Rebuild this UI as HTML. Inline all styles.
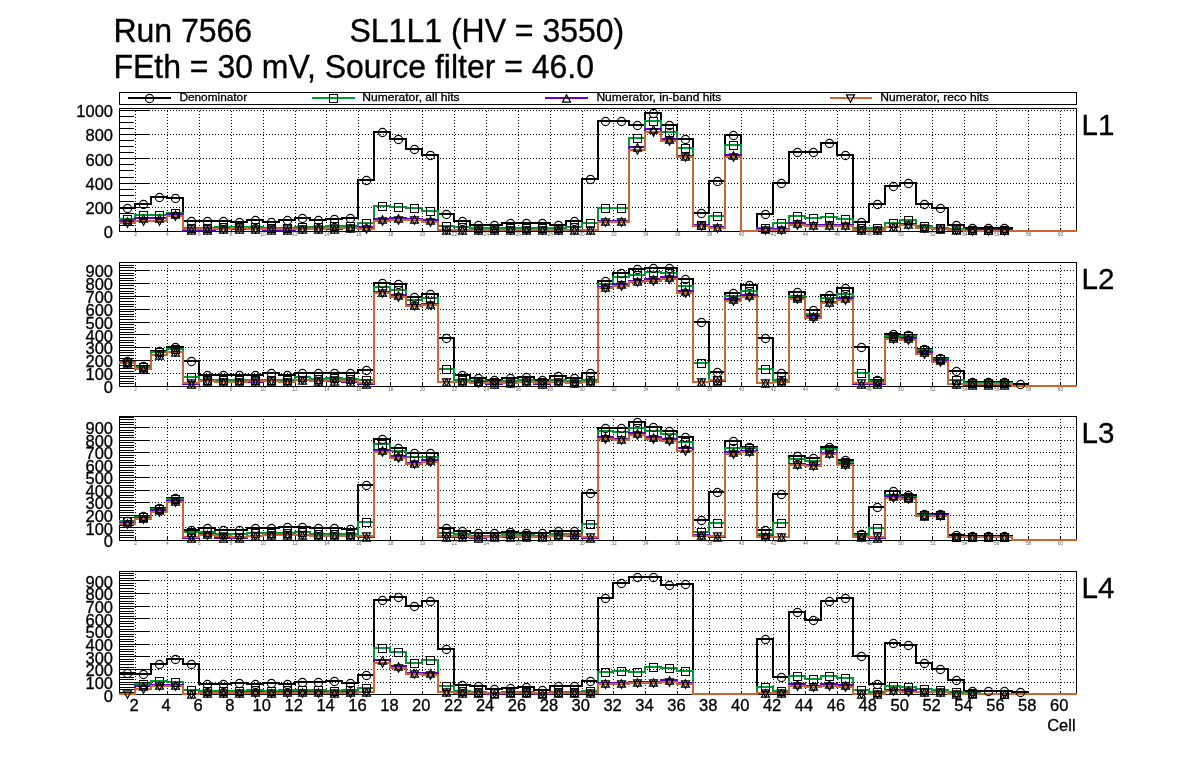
<!DOCTYPE html>
<html><head><meta charset="utf-8"><title>plot</title>
<style>html,body{margin:0;padding:0;background:#fff}svg{display:block;shape-rendering:crispEdges}text{font-family:"Liberation Sans",sans-serif}svg{will-change:transform}.mk,.mg,.mp,.mo{fill:none;stroke:#000;stroke-width:1}.mk{shape-rendering:geometricPrecision;stroke-width:1.15}.mp,.mo{shape-rendering:geometricPrecision;stroke-width:1.2;stroke-linejoin:miter}</style></head>
<body>
<svg width="1196" height="772" viewBox="0 0 1196 772">
<rect width="1196" height="772" fill="#fff"/>
<text transform="translate(113.4 41.5) scale(1 1.03)" font-family="Liberation Sans, sans-serif" font-size="32" fill="#000" stroke="#000" stroke-width="0.35">Run 7566</text>
<text transform="translate(349.5 41.5) scale(1 1.03)" font-family="Liberation Sans, sans-serif" font-size="32" fill="#000" stroke="#000" stroke-width="0.35">SL1L1 (HV = 3550)</text>
<text transform="translate(113.4 77.5) scale(1 1.03)" font-family="Liberation Sans, sans-serif" font-size="32" fill="#000" stroke="#000" stroke-width="0.35">FEth = 30 mV, Source filter = 46.0</text>
<rect x="119.5" y="92.5" width="957.0" height="12" fill="#fff" stroke="#000" stroke-width="1"/>
<line x1="128.1" y1="98" x2="171.0" y2="98" stroke="#000000" stroke-width="2"/>
<g class="mk"><circle cx="149.5" cy="98.5" r="4.1"/></g>
<text x="179.4" y="100.6" font-family="Liberation Sans, sans-serif" font-size="11.2" fill="#000" stroke="#000" stroke-width="0.3" textLength="67.7" lengthAdjust="spacingAndGlyphs">Denominator</text>
<line x1="312.4" y1="98" x2="354.5" y2="98" stroke="#009933" stroke-width="2"/>
<g class="mg"><rect x="329.5" y="94.5" width="8" height="8"/></g>
<text x="362.29999999999995" y="100.6" font-family="Liberation Sans, sans-serif" font-size="11.2" fill="#000" stroke="#000" stroke-width="0.3" textLength="97.3" lengthAdjust="spacingAndGlyphs">Numerator, all hits</text>
<line x1="545.2" y1="98" x2="587.6" y2="98" stroke="#6600cc" stroke-width="2"/>
<g class="mp"><path d="M562.5 102.2H570.5L566.5 94.8Z"/></g>
<text x="596.4" y="100.6" font-family="Liberation Sans, sans-serif" font-size="11.2" fill="#000" stroke="#000" stroke-width="0.3" textLength="125.0" lengthAdjust="spacingAndGlyphs">Numerator, in-band hits</text>
<line x1="829.8" y1="98" x2="871.6" y2="98" stroke="#cc6633" stroke-width="2"/>
<g class="mo"><path d="M846.5 94.8H854.5L850.5 102.2Z"/></g>
<text x="880.3" y="100.6" font-family="Liberation Sans, sans-serif" font-size="11.2" fill="#000" stroke="#000" stroke-width="0.3" textLength="108.4" lengthAdjust="spacingAndGlyphs">Numerator, reco hits</text>
<path d="M135.5 108.0V231.5 M167.5 108.0V231.5 M199.5 108.0V231.5 M231.5 108.0V231.5 M263.5 108.0V231.5 M295.5 108.0V231.5 M326.5 108.0V231.5 M358.5 108.0V231.5 M390.5 108.0V231.5 M422.5 108.0V231.5 M454.5 108.0V231.5 M486.5 108.0V231.5 M518.5 108.0V231.5 M550.5 108.0V231.5 M582.5 108.0V231.5 M613.5 108.0V231.5 M645.5 108.0V231.5 M677.5 108.0V231.5 M709.5 108.0V231.5 M741.5 108.0V231.5 M773.5 108.0V231.5 M805.5 108.0V231.5 M837.5 108.0V231.5 M869.5 108.0V231.5 M900.5 108.0V231.5 M932.5 108.0V231.5 M964.5 108.0V231.5 M996.5 108.0V231.5 M1028.5 108.0V231.5 M1060.5 108.0V231.5 M119.0 207.5H1076.5 M119.0 183.5H1076.5 M119.0 158.5H1076.5 M119.0 134.5H1076.5 M119.0 110.5H1076.5" stroke="#000" stroke-width="1" stroke-dasharray="1 2" fill="none"/>
<path d="M119.5 231.5h29 M119.5 225.5h14 M119.5 219.5h14 M119.5 213.5h14 M119.5 207.5h29 M119.5 201.5h14 M119.5 195.5h14 M119.5 189.5h14 M119.5 183.5h29 M119.5 177.5h14 M119.5 170.5h14 M119.5 164.5h14 M119.5 158.5h29 M119.5 152.5h14 M119.5 146.5h14 M119.5 140.5h14 M119.5 134.5h29 M119.5 128.5h14 M119.5 122.5h14 M119.5 116.5h14 M119.5 110.5h29 M135.5 231.5v-3.5 M167.5 231.5v-3.5 M199.5 231.5v-3.5 M231.5 231.5v-3.5 M263.5 231.5v-3.5 M295.5 231.5v-3.5 M326.5 231.5v-3.5 M358.5 231.5v-3.5 M390.5 231.5v-3.5 M422.5 231.5v-3.5 M454.5 231.5v-3.5 M486.5 231.5v-3.5 M518.5 231.5v-3.5 M550.5 231.5v-3.5 M582.5 231.5v-3.5 M613.5 231.5v-3.5 M645.5 231.5v-3.5 M677.5 231.5v-3.5 M709.5 231.5v-3.5 M741.5 231.5v-3.5 M773.5 231.5v-3.5 M805.5 231.5v-3.5 M837.5 231.5v-3.5 M869.5 231.5v-3.5 M900.5 231.5v-3.5 M932.5 231.5v-3.5 M964.5 231.5v-3.5 M996.5 231.5v-3.5 M1028.5 231.5v-3.5 M1060.5 231.5v-3.5" stroke="#000" stroke-width="1" fill="none"/>
<rect x="119.5" y="108.5" width="957.0" height="123.0" fill="none" stroke="#000" stroke-width="1"/>
<text x="113" y="238.1" text-anchor="end" font-family="Liberation Sans, sans-serif" font-size="16.5" fill="#000" stroke="#000" stroke-width="0.3">0</text>
<text x="113" y="213.9" text-anchor="end" font-family="Liberation Sans, sans-serif" font-size="16.5" fill="#000" stroke="#000" stroke-width="0.3">200</text>
<text x="113" y="189.7" text-anchor="end" font-family="Liberation Sans, sans-serif" font-size="16.5" fill="#000" stroke="#000" stroke-width="0.3">400</text>
<text x="113" y="165.5" text-anchor="end" font-family="Liberation Sans, sans-serif" font-size="16.5" fill="#000" stroke="#000" stroke-width="0.3">600</text>
<text x="113" y="141.3" text-anchor="end" font-family="Liberation Sans, sans-serif" font-size="16.5" fill="#000" stroke="#000" stroke-width="0.3">800</text>
<text x="113" y="117.1" text-anchor="end" font-family="Liberation Sans, sans-serif" font-size="16.5" fill="#000" stroke="#000" stroke-width="0.3">1000</text>
<text x="135.5" y="236.0" text-anchor="middle" font-family="Liberation Sans, sans-serif" font-size="4.8" fill="#666">2</text>
<text x="167.4" y="236.0" text-anchor="middle" font-family="Liberation Sans, sans-serif" font-size="4.8" fill="#666">4</text>
<text x="199.3" y="236.0" text-anchor="middle" font-family="Liberation Sans, sans-serif" font-size="4.8" fill="#666">6</text>
<text x="231.2" y="236.0" text-anchor="middle" font-family="Liberation Sans, sans-serif" font-size="4.8" fill="#666">8</text>
<text x="263.1" y="236.0" text-anchor="middle" font-family="Liberation Sans, sans-serif" font-size="4.8" fill="#666">10</text>
<text x="295.0" y="236.0" text-anchor="middle" font-family="Liberation Sans, sans-serif" font-size="4.8" fill="#666">12</text>
<text x="326.9" y="236.0" text-anchor="middle" font-family="Liberation Sans, sans-serif" font-size="4.8" fill="#666">14</text>
<text x="358.8" y="236.0" text-anchor="middle" font-family="Liberation Sans, sans-serif" font-size="4.8" fill="#666">16</text>
<text x="390.7" y="236.0" text-anchor="middle" font-family="Liberation Sans, sans-serif" font-size="4.8" fill="#666">18</text>
<text x="422.6" y="236.0" text-anchor="middle" font-family="Liberation Sans, sans-serif" font-size="4.8" fill="#666">20</text>
<text x="454.5" y="236.0" text-anchor="middle" font-family="Liberation Sans, sans-serif" font-size="4.8" fill="#666">22</text>
<text x="486.4" y="236.0" text-anchor="middle" font-family="Liberation Sans, sans-serif" font-size="4.8" fill="#666">24</text>
<text x="518.3" y="236.0" text-anchor="middle" font-family="Liberation Sans, sans-serif" font-size="4.8" fill="#666">26</text>
<text x="550.2" y="236.0" text-anchor="middle" font-family="Liberation Sans, sans-serif" font-size="4.8" fill="#666">28</text>
<text x="582.1" y="236.0" text-anchor="middle" font-family="Liberation Sans, sans-serif" font-size="4.8" fill="#666">30</text>
<text x="613.9" y="236.0" text-anchor="middle" font-family="Liberation Sans, sans-serif" font-size="4.8" fill="#666">32</text>
<text x="645.8" y="236.0" text-anchor="middle" font-family="Liberation Sans, sans-serif" font-size="4.8" fill="#666">34</text>
<text x="677.7" y="236.0" text-anchor="middle" font-family="Liberation Sans, sans-serif" font-size="4.8" fill="#666">36</text>
<text x="709.6" y="236.0" text-anchor="middle" font-family="Liberation Sans, sans-serif" font-size="4.8" fill="#666">38</text>
<text x="741.5" y="236.0" text-anchor="middle" font-family="Liberation Sans, sans-serif" font-size="4.8" fill="#666">40</text>
<text x="773.4" y="236.0" text-anchor="middle" font-family="Liberation Sans, sans-serif" font-size="4.8" fill="#666">42</text>
<text x="805.3" y="236.0" text-anchor="middle" font-family="Liberation Sans, sans-serif" font-size="4.8" fill="#666">44</text>
<text x="837.2" y="236.0" text-anchor="middle" font-family="Liberation Sans, sans-serif" font-size="4.8" fill="#666">46</text>
<text x="869.1" y="236.0" text-anchor="middle" font-family="Liberation Sans, sans-serif" font-size="4.8" fill="#666">48</text>
<text x="901.0" y="236.0" text-anchor="middle" font-family="Liberation Sans, sans-serif" font-size="4.8" fill="#666">50</text>
<text x="932.9" y="236.0" text-anchor="middle" font-family="Liberation Sans, sans-serif" font-size="4.8" fill="#666">52</text>
<text x="964.8" y="236.0" text-anchor="middle" font-family="Liberation Sans, sans-serif" font-size="4.8" fill="#666">54</text>
<text x="996.7" y="236.0" text-anchor="middle" font-family="Liberation Sans, sans-serif" font-size="4.8" fill="#666">56</text>
<text x="1028.6" y="236.0" text-anchor="middle" font-family="Liberation Sans, sans-serif" font-size="4.8" fill="#666">58</text>
<text x="1060.5" y="236.0" text-anchor="middle" font-family="Liberation Sans, sans-serif" font-size="4.8" fill="#666">60</text>
<text x="1081.5" y="135.0" font-family="Liberation Sans, sans-serif" font-size="29.6" fill="#000" stroke="#000" stroke-width="0.3">L1</text>
<path d="M119 208H135V204H151V197H167V198H183V221H199H215H231V222H247V220H263V222H279V220H295V218H310V220H326V219H342V218H358V180H374V132H390V139H406V149H422V155H438V214H454V221H470V225H486H502V223H518H534H550V225H566V221H582V179H598V121H613H629V125H645V113H661V125H677V139H693V213H709V181H725V135H741V231H757V214H773V183H789V152H805H821V143H837V155H853V222H869V204H885V186H900V183H916V204H932V208H948V225H964V228H980H996H1012V231H1028H1044H1060H1077" stroke="#000000" stroke-width="2" fill="none" stroke-linejoin="miter" stroke-linecap="butt"/>
<path d="M119 219H135V215H151H167V213H183V228H199H215V227H231H247H263V228H279H295V227H310H326V226H342H358V223H374V206H390V207H406V208H422V211H438V226H454V227H470V228H486H502H518H534H550H566V227H582V223H598V208H613H629V138H645V121H661V132H677V148H693V225H709V216H725V145H741V231H757V228H773V223H789V216H805V218H821V217H837V219H853V228H869H885V223H900V220H916V226H932V228H948V229H964V230H980H996H1012V231H1028H1044H1060H1077" stroke="#009933" stroke-width="2" fill="none" stroke-linejoin="miter" stroke-linecap="butt"/>
<path d="M119 221H135V218H151H167V214H183V230H199H215V229H231H247H263V230H279H295V229H310H326H342V228H358V227H374V219H390V218H406V219H422V220H438V230H454H470H486H502H518H534H550H566H582H598V221H613H629V147H645V129H661V139H677V156H693V225H709V227H725V155H741V231H757V229H773H789V223H805V225H821H837H853V230H869H885V227H900V224H916V228H932V229H948V230H964H980H996H1012V231H1028H1044H1060H1077" stroke="#6600cc" stroke-width="2" fill="none" stroke-linejoin="miter" stroke-linecap="butt"/>
<path d="M119 223H135V221H151H167V216H183V229H199H215H231V228H247V229H263H279H295H310H326V228H342H358V229H374V221H390V220H406H422V222H438V230H454H470H486H502H518H534H550H566H582H598V222H613H629V150H645V132H661V141H677V157H693V226H709V228H725V157H741V231H757V230H773H789V225H805V226H821H837H853V230H869H885V227H900V225H916V228H932V229H948V230H964V231H980H996H1012H1028H1044H1060H1077" stroke="#cc6633" stroke-width="2" fill="none" stroke-linejoin="miter" stroke-linecap="butt"/>
<g class="mk"><circle cx="127.5" cy="208.5" r="4.1"/><circle cx="143.5" cy="204.5" r="4.1"/><circle cx="159.5" cy="197.5" r="4.1"/><circle cx="175.5" cy="198.5" r="4.1"/><circle cx="191.5" cy="221.5" r="4.1"/><circle cx="207.5" cy="221.5" r="4.1"/><circle cx="223.5" cy="221.5" r="4.1"/><circle cx="239.5" cy="222.5" r="4.1"/><circle cx="255.5" cy="220.5" r="4.1"/><circle cx="271.5" cy="222.5" r="4.1"/><circle cx="287.5" cy="220.5" r="4.1"/><circle cx="302.5" cy="218.5" r="4.1"/><circle cx="318.5" cy="220.5" r="4.1"/><circle cx="334.5" cy="219.5" r="4.1"/><circle cx="350.5" cy="218.5" r="4.1"/><circle cx="366.5" cy="180.5" r="4.1"/><circle cx="382.5" cy="132.5" r="4.1"/><circle cx="398.5" cy="139.5" r="4.1"/><circle cx="414.5" cy="149.5" r="4.1"/><circle cx="430.5" cy="155.5" r="4.1"/><circle cx="446.5" cy="214.5" r="4.1"/><circle cx="462.5" cy="221.5" r="4.1"/><circle cx="478.5" cy="225.5" r="4.1"/><circle cx="494.5" cy="225.5" r="4.1"/><circle cx="510.5" cy="223.5" r="4.1"/><circle cx="526.5" cy="223.5" r="4.1"/><circle cx="542.5" cy="223.5" r="4.1"/><circle cx="558.5" cy="225.5" r="4.1"/><circle cx="574.5" cy="221.5" r="4.1"/><circle cx="590.5" cy="179.5" r="4.1"/><circle cx="605.5" cy="121.5" r="4.1"/><circle cx="621.5" cy="121.5" r="4.1"/><circle cx="637.5" cy="125.5" r="4.1"/><circle cx="653.5" cy="113.5" r="4.1"/><circle cx="669.5" cy="125.5" r="4.1"/><circle cx="685.5" cy="139.5" r="4.1"/><circle cx="701.5" cy="213.5" r="4.1"/><circle cx="717.5" cy="181.5" r="4.1"/><circle cx="733.5" cy="135.5" r="4.1"/><circle cx="765.5" cy="214.5" r="4.1"/><circle cx="781.5" cy="183.5" r="4.1"/><circle cx="797.5" cy="152.5" r="4.1"/><circle cx="813.5" cy="152.5" r="4.1"/><circle cx="829.5" cy="143.5" r="4.1"/><circle cx="845.5" cy="155.5" r="4.1"/><circle cx="861.5" cy="222.5" r="4.1"/><circle cx="877.5" cy="204.5" r="4.1"/><circle cx="893.5" cy="186.5" r="4.1"/><circle cx="908.5" cy="183.5" r="4.1"/><circle cx="924.5" cy="204.5" r="4.1"/><circle cx="940.5" cy="208.5" r="4.1"/><circle cx="956.5" cy="225.5" r="4.1"/><circle cx="972.5" cy="228.5" r="4.1"/><circle cx="988.5" cy="228.5" r="4.1"/><circle cx="1004.5" cy="228.5" r="4.1"/></g>
<g class="mg"><rect x="123.5" y="215.5" width="8" height="8"/><rect x="139.5" y="211.5" width="8" height="8"/><rect x="155.5" y="211.5" width="8" height="8"/><rect x="171.5" y="209.5" width="8" height="8"/><rect x="187.5" y="224.5" width="8" height="8"/><rect x="203.5" y="224.5" width="8" height="8"/><rect x="219.5" y="223.5" width="8" height="8"/><rect x="235.5" y="223.5" width="8" height="8"/><rect x="251.5" y="223.5" width="8" height="8"/><rect x="267.5" y="224.5" width="8" height="8"/><rect x="283.5" y="224.5" width="8" height="8"/><rect x="298.5" y="223.5" width="8" height="8"/><rect x="314.5" y="223.5" width="8" height="8"/><rect x="330.5" y="222.5" width="8" height="8"/><rect x="346.5" y="222.5" width="8" height="8"/><rect x="362.5" y="219.5" width="8" height="8"/><rect x="378.5" y="202.5" width="8" height="8"/><rect x="394.5" y="203.5" width="8" height="8"/><rect x="410.5" y="204.5" width="8" height="8"/><rect x="426.5" y="207.5" width="8" height="8"/><rect x="442.5" y="222.5" width="8" height="8"/><rect x="458.5" y="223.5" width="8" height="8"/><rect x="474.5" y="224.5" width="8" height="8"/><rect x="490.5" y="224.5" width="8" height="8"/><rect x="506.5" y="224.5" width="8" height="8"/><rect x="522.5" y="224.5" width="8" height="8"/><rect x="538.5" y="224.5" width="8" height="8"/><rect x="554.5" y="224.5" width="8" height="8"/><rect x="570.5" y="223.5" width="8" height="8"/><rect x="586.5" y="219.5" width="8" height="8"/><rect x="601.5" y="204.5" width="8" height="8"/><rect x="617.5" y="204.5" width="8" height="8"/><rect x="633.5" y="134.5" width="8" height="8"/><rect x="649.5" y="117.5" width="8" height="8"/><rect x="665.5" y="128.5" width="8" height="8"/><rect x="681.5" y="144.5" width="8" height="8"/><rect x="697.5" y="221.5" width="8" height="8"/><rect x="713.5" y="212.5" width="8" height="8"/><rect x="729.5" y="141.5" width="8" height="8"/><rect x="761.5" y="224.5" width="8" height="8"/><rect x="777.5" y="219.5" width="8" height="8"/><rect x="793.5" y="212.5" width="8" height="8"/><rect x="809.5" y="214.5" width="8" height="8"/><rect x="825.5" y="213.5" width="8" height="8"/><rect x="841.5" y="215.5" width="8" height="8"/><rect x="857.5" y="224.5" width="8" height="8"/><rect x="873.5" y="224.5" width="8" height="8"/><rect x="889.5" y="219.5" width="8" height="8"/><rect x="904.5" y="216.5" width="8" height="8"/><rect x="920.5" y="222.5" width="8" height="8"/><rect x="936.5" y="224.5" width="8" height="8"/><rect x="952.5" y="225.5" width="8" height="8"/><rect x="968.5" y="226.5" width="8" height="8"/><rect x="984.5" y="226.5" width="8" height="8"/><rect x="1000.5" y="226.5" width="8" height="8"/></g>
<g class="mp"><path d="M123.5 225.2H131.5L127.5 217.8Z"/><path d="M139.5 222.2H147.5L143.5 214.8Z"/><path d="M155.5 222.2H163.5L159.5 214.8Z"/><path d="M171.5 218.2H179.5L175.5 210.8Z"/><path d="M187.5 234.2H195.5L191.5 226.8Z"/><path d="M203.5 234.2H211.5L207.5 226.8Z"/><path d="M219.5 233.2H227.5L223.5 225.8Z"/><path d="M235.5 233.2H243.5L239.5 225.8Z"/><path d="M251.5 233.2H259.5L255.5 225.8Z"/><path d="M267.5 234.2H275.5L271.5 226.8Z"/><path d="M283.5 234.2H291.5L287.5 226.8Z"/><path d="M298.5 233.2H306.5L302.5 225.8Z"/><path d="M314.5 233.2H322.5L318.5 225.8Z"/><path d="M330.5 233.2H338.5L334.5 225.8Z"/><path d="M346.5 232.2H354.5L350.5 224.8Z"/><path d="M362.5 231.2H370.5L366.5 223.8Z"/><path d="M378.5 223.2H386.5L382.5 215.8Z"/><path d="M394.5 222.2H402.5L398.5 214.8Z"/><path d="M410.5 223.2H418.5L414.5 215.8Z"/><path d="M426.5 224.2H434.5L430.5 216.8Z"/><path d="M442.5 234.2H450.5L446.5 226.8Z"/><path d="M458.5 234.2H466.5L462.5 226.8Z"/><path d="M474.5 234.2H482.5L478.5 226.8Z"/><path d="M490.5 234.2H498.5L494.5 226.8Z"/><path d="M506.5 234.2H514.5L510.5 226.8Z"/><path d="M522.5 234.2H530.5L526.5 226.8Z"/><path d="M538.5 234.2H546.5L542.5 226.8Z"/><path d="M554.5 234.2H562.5L558.5 226.8Z"/><path d="M570.5 234.2H578.5L574.5 226.8Z"/><path d="M586.5 234.2H594.5L590.5 226.8Z"/><path d="M601.5 225.2H609.5L605.5 217.8Z"/><path d="M617.5 225.2H625.5L621.5 217.8Z"/><path d="M633.5 151.2H641.5L637.5 143.8Z"/><path d="M649.5 133.2H657.5L653.5 125.8Z"/><path d="M665.5 143.2H673.5L669.5 135.8Z"/><path d="M681.5 160.2H689.5L685.5 152.8Z"/><path d="M697.5 229.2H705.5L701.5 221.8Z"/><path d="M713.5 231.2H721.5L717.5 223.8Z"/><path d="M729.5 159.2H737.5L733.5 151.8Z"/><path d="M761.5 233.2H769.5L765.5 225.8Z"/><path d="M777.5 233.2H785.5L781.5 225.8Z"/><path d="M793.5 227.2H801.5L797.5 219.8Z"/><path d="M809.5 229.2H817.5L813.5 221.8Z"/><path d="M825.5 229.2H833.5L829.5 221.8Z"/><path d="M841.5 229.2H849.5L845.5 221.8Z"/><path d="M857.5 234.2H865.5L861.5 226.8Z"/><path d="M873.5 234.2H881.5L877.5 226.8Z"/><path d="M889.5 231.2H897.5L893.5 223.8Z"/><path d="M904.5 228.2H912.5L908.5 220.8Z"/><path d="M920.5 232.2H928.5L924.5 224.8Z"/><path d="M936.5 233.2H944.5L940.5 225.8Z"/><path d="M952.5 234.2H960.5L956.5 226.8Z"/><path d="M968.5 234.2H976.5L972.5 226.8Z"/><path d="M984.5 234.2H992.5L988.5 226.8Z"/><path d="M1000.5 234.2H1008.5L1004.5 226.8Z"/></g>
<g class="mo"><path d="M123.5 219.8H131.5L127.5 227.2Z"/><path d="M139.5 217.8H147.5L143.5 225.2Z"/><path d="M155.5 217.8H163.5L159.5 225.2Z"/><path d="M171.5 212.8H179.5L175.5 220.2Z"/><path d="M187.5 225.8H195.5L191.5 233.2Z"/><path d="M203.5 225.8H211.5L207.5 233.2Z"/><path d="M219.5 225.8H227.5L223.5 233.2Z"/><path d="M235.5 224.8H243.5L239.5 232.2Z"/><path d="M251.5 225.8H259.5L255.5 233.2Z"/><path d="M267.5 225.8H275.5L271.5 233.2Z"/><path d="M283.5 225.8H291.5L287.5 233.2Z"/><path d="M298.5 225.8H306.5L302.5 233.2Z"/><path d="M314.5 225.8H322.5L318.5 233.2Z"/><path d="M330.5 224.8H338.5L334.5 232.2Z"/><path d="M346.5 224.8H354.5L350.5 232.2Z"/><path d="M362.5 225.8H370.5L366.5 233.2Z"/><path d="M378.5 217.8H386.5L382.5 225.2Z"/><path d="M394.5 216.8H402.5L398.5 224.2Z"/><path d="M410.5 216.8H418.5L414.5 224.2Z"/><path d="M426.5 218.8H434.5L430.5 226.2Z"/><path d="M442.5 226.8H450.5L446.5 234.2Z"/><path d="M458.5 226.8H466.5L462.5 234.2Z"/><path d="M474.5 226.8H482.5L478.5 234.2Z"/><path d="M490.5 226.8H498.5L494.5 234.2Z"/><path d="M506.5 226.8H514.5L510.5 234.2Z"/><path d="M522.5 226.8H530.5L526.5 234.2Z"/><path d="M538.5 226.8H546.5L542.5 234.2Z"/><path d="M554.5 226.8H562.5L558.5 234.2Z"/><path d="M570.5 226.8H578.5L574.5 234.2Z"/><path d="M586.5 226.8H594.5L590.5 234.2Z"/><path d="M601.5 218.8H609.5L605.5 226.2Z"/><path d="M617.5 218.8H625.5L621.5 226.2Z"/><path d="M633.5 146.8H641.5L637.5 154.2Z"/><path d="M649.5 128.8H657.5L653.5 136.2Z"/><path d="M665.5 137.8H673.5L669.5 145.2Z"/><path d="M681.5 153.8H689.5L685.5 161.2Z"/><path d="M697.5 222.8H705.5L701.5 230.2Z"/><path d="M713.5 224.8H721.5L717.5 232.2Z"/><path d="M729.5 153.8H737.5L733.5 161.2Z"/><path d="M761.5 226.8H769.5L765.5 234.2Z"/><path d="M777.5 226.8H785.5L781.5 234.2Z"/><path d="M793.5 221.8H801.5L797.5 229.2Z"/><path d="M809.5 222.8H817.5L813.5 230.2Z"/><path d="M825.5 222.8H833.5L829.5 230.2Z"/><path d="M841.5 222.8H849.5L845.5 230.2Z"/><path d="M857.5 226.8H865.5L861.5 234.2Z"/><path d="M873.5 226.8H881.5L877.5 234.2Z"/><path d="M889.5 223.8H897.5L893.5 231.2Z"/><path d="M904.5 221.8H912.5L908.5 229.2Z"/><path d="M920.5 224.8H928.5L924.5 232.2Z"/><path d="M936.5 225.8H944.5L940.5 233.2Z"/><path d="M952.5 226.8H960.5L956.5 234.2Z"/><path d="M968.5 227.8H976.5L972.5 235.2Z"/><path d="M984.5 227.8H992.5L988.5 235.2Z"/><path d="M1000.5 227.8H1008.5L1004.5 235.2Z"/></g>
<path d="M135.5 262.0V386.5 M167.5 262.0V386.5 M199.5 262.0V386.5 M231.5 262.0V386.5 M263.5 262.0V386.5 M295.5 262.0V386.5 M326.5 262.0V386.5 M358.5 262.0V386.5 M390.5 262.0V386.5 M422.5 262.0V386.5 M454.5 262.0V386.5 M486.5 262.0V386.5 M518.5 262.0V386.5 M550.5 262.0V386.5 M582.5 262.0V386.5 M613.5 262.0V386.5 M645.5 262.0V386.5 M677.5 262.0V386.5 M709.5 262.0V386.5 M741.5 262.0V386.5 M773.5 262.0V386.5 M805.5 262.0V386.5 M837.5 262.0V386.5 M869.5 262.0V386.5 M900.5 262.0V386.5 M932.5 262.0V386.5 M964.5 262.0V386.5 M996.5 262.0V386.5 M1028.5 262.0V386.5 M1060.5 262.0V386.5 M119.0 373.5H1076.5 M119.0 360.5H1076.5 M119.0 347.5H1076.5 M119.0 334.5H1076.5 M119.0 322.5H1076.5 M119.0 309.5H1076.5 M119.0 296.5H1076.5 M119.0 283.5H1076.5 M119.0 270.5H1076.5" stroke="#000" stroke-width="1" stroke-dasharray="1 2" fill="none"/>
<path d="M119.5 386.5h29 M119.5 383.5h14 M119.5 381.5h14 M119.5 378.5h14 M119.5 376.5h14 M119.5 373.5h29 M119.5 371.5h14 M119.5 368.5h14 M119.5 365.5h14 M119.5 363.5h14 M119.5 360.5h29 M119.5 358.5h14 M119.5 355.5h14 M119.5 352.5h14 M119.5 350.5h14 M119.5 347.5h29 M119.5 345.5h14 M119.5 342.5h14 M119.5 340.5h14 M119.5 337.5h14 M119.5 334.5h29 M119.5 332.5h14 M119.5 329.5h14 M119.5 327.5h14 M119.5 324.5h14 M119.5 322.5h29 M119.5 319.5h14 M119.5 316.5h14 M119.5 314.5h14 M119.5 311.5h14 M119.5 309.5h29 M119.5 306.5h14 M119.5 304.5h14 M119.5 301.5h14 M119.5 298.5h14 M119.5 296.5h29 M119.5 293.5h14 M119.5 291.5h14 M119.5 288.5h14 M119.5 285.5h14 M119.5 283.5h29 M119.5 280.5h14 M119.5 278.5h14 M119.5 275.5h14 M119.5 273.5h14 M119.5 270.5h29 M119.5 267.5h14 M119.5 265.5h14 M119.5 262.5h14 M135.5 386.5v-3.5 M167.5 386.5v-3.5 M199.5 386.5v-3.5 M231.5 386.5v-3.5 M263.5 386.5v-3.5 M295.5 386.5v-3.5 M326.5 386.5v-3.5 M358.5 386.5v-3.5 M390.5 386.5v-3.5 M422.5 386.5v-3.5 M454.5 386.5v-3.5 M486.5 386.5v-3.5 M518.5 386.5v-3.5 M550.5 386.5v-3.5 M582.5 386.5v-3.5 M613.5 386.5v-3.5 M645.5 386.5v-3.5 M677.5 386.5v-3.5 M709.5 386.5v-3.5 M741.5 386.5v-3.5 M773.5 386.5v-3.5 M805.5 386.5v-3.5 M837.5 386.5v-3.5 M869.5 386.5v-3.5 M900.5 386.5v-3.5 M932.5 386.5v-3.5 M964.5 386.5v-3.5 M996.5 386.5v-3.5 M1028.5 386.5v-3.5 M1060.5 386.5v-3.5" stroke="#000" stroke-width="1" fill="none"/>
<rect x="119.5" y="262.5" width="957.0" height="124.0" fill="none" stroke="#000" stroke-width="1"/>
<text x="113" y="393.1" text-anchor="end" font-family="Liberation Sans, sans-serif" font-size="16.5" fill="#000" stroke="#000" stroke-width="0.3">0</text>
<text x="113" y="380.2" text-anchor="end" font-family="Liberation Sans, sans-serif" font-size="16.5" fill="#000" stroke="#000" stroke-width="0.3">100</text>
<text x="113" y="367.3" text-anchor="end" font-family="Liberation Sans, sans-serif" font-size="16.5" fill="#000" stroke="#000" stroke-width="0.3">200</text>
<text x="113" y="354.4" text-anchor="end" font-family="Liberation Sans, sans-serif" font-size="16.5" fill="#000" stroke="#000" stroke-width="0.3">300</text>
<text x="113" y="341.5" text-anchor="end" font-family="Liberation Sans, sans-serif" font-size="16.5" fill="#000" stroke="#000" stroke-width="0.3">400</text>
<text x="113" y="328.7" text-anchor="end" font-family="Liberation Sans, sans-serif" font-size="16.5" fill="#000" stroke="#000" stroke-width="0.3">500</text>
<text x="113" y="315.8" text-anchor="end" font-family="Liberation Sans, sans-serif" font-size="16.5" fill="#000" stroke="#000" stroke-width="0.3">600</text>
<text x="113" y="302.9" text-anchor="end" font-family="Liberation Sans, sans-serif" font-size="16.5" fill="#000" stroke="#000" stroke-width="0.3">700</text>
<text x="113" y="290.0" text-anchor="end" font-family="Liberation Sans, sans-serif" font-size="16.5" fill="#000" stroke="#000" stroke-width="0.3">800</text>
<text x="113" y="277.1" text-anchor="end" font-family="Liberation Sans, sans-serif" font-size="16.5" fill="#000" stroke="#000" stroke-width="0.3">900</text>
<text x="135.5" y="391.0" text-anchor="middle" font-family="Liberation Sans, sans-serif" font-size="4.8" fill="#666">2</text>
<text x="167.4" y="391.0" text-anchor="middle" font-family="Liberation Sans, sans-serif" font-size="4.8" fill="#666">4</text>
<text x="199.3" y="391.0" text-anchor="middle" font-family="Liberation Sans, sans-serif" font-size="4.8" fill="#666">6</text>
<text x="231.2" y="391.0" text-anchor="middle" font-family="Liberation Sans, sans-serif" font-size="4.8" fill="#666">8</text>
<text x="263.1" y="391.0" text-anchor="middle" font-family="Liberation Sans, sans-serif" font-size="4.8" fill="#666">10</text>
<text x="295.0" y="391.0" text-anchor="middle" font-family="Liberation Sans, sans-serif" font-size="4.8" fill="#666">12</text>
<text x="326.9" y="391.0" text-anchor="middle" font-family="Liberation Sans, sans-serif" font-size="4.8" fill="#666">14</text>
<text x="358.8" y="391.0" text-anchor="middle" font-family="Liberation Sans, sans-serif" font-size="4.8" fill="#666">16</text>
<text x="390.7" y="391.0" text-anchor="middle" font-family="Liberation Sans, sans-serif" font-size="4.8" fill="#666">18</text>
<text x="422.6" y="391.0" text-anchor="middle" font-family="Liberation Sans, sans-serif" font-size="4.8" fill="#666">20</text>
<text x="454.5" y="391.0" text-anchor="middle" font-family="Liberation Sans, sans-serif" font-size="4.8" fill="#666">22</text>
<text x="486.4" y="391.0" text-anchor="middle" font-family="Liberation Sans, sans-serif" font-size="4.8" fill="#666">24</text>
<text x="518.3" y="391.0" text-anchor="middle" font-family="Liberation Sans, sans-serif" font-size="4.8" fill="#666">26</text>
<text x="550.2" y="391.0" text-anchor="middle" font-family="Liberation Sans, sans-serif" font-size="4.8" fill="#666">28</text>
<text x="582.1" y="391.0" text-anchor="middle" font-family="Liberation Sans, sans-serif" font-size="4.8" fill="#666">30</text>
<text x="613.9" y="391.0" text-anchor="middle" font-family="Liberation Sans, sans-serif" font-size="4.8" fill="#666">32</text>
<text x="645.8" y="391.0" text-anchor="middle" font-family="Liberation Sans, sans-serif" font-size="4.8" fill="#666">34</text>
<text x="677.7" y="391.0" text-anchor="middle" font-family="Liberation Sans, sans-serif" font-size="4.8" fill="#666">36</text>
<text x="709.6" y="391.0" text-anchor="middle" font-family="Liberation Sans, sans-serif" font-size="4.8" fill="#666">38</text>
<text x="741.5" y="391.0" text-anchor="middle" font-family="Liberation Sans, sans-serif" font-size="4.8" fill="#666">40</text>
<text x="773.4" y="391.0" text-anchor="middle" font-family="Liberation Sans, sans-serif" font-size="4.8" fill="#666">42</text>
<text x="805.3" y="391.0" text-anchor="middle" font-family="Liberation Sans, sans-serif" font-size="4.8" fill="#666">44</text>
<text x="837.2" y="391.0" text-anchor="middle" font-family="Liberation Sans, sans-serif" font-size="4.8" fill="#666">46</text>
<text x="869.1" y="391.0" text-anchor="middle" font-family="Liberation Sans, sans-serif" font-size="4.8" fill="#666">48</text>
<text x="901.0" y="391.0" text-anchor="middle" font-family="Liberation Sans, sans-serif" font-size="4.8" fill="#666">50</text>
<text x="932.9" y="391.0" text-anchor="middle" font-family="Liberation Sans, sans-serif" font-size="4.8" fill="#666">52</text>
<text x="964.8" y="391.0" text-anchor="middle" font-family="Liberation Sans, sans-serif" font-size="4.8" fill="#666">54</text>
<text x="996.7" y="391.0" text-anchor="middle" font-family="Liberation Sans, sans-serif" font-size="4.8" fill="#666">56</text>
<text x="1028.6" y="391.0" text-anchor="middle" font-family="Liberation Sans, sans-serif" font-size="4.8" fill="#666">58</text>
<text x="1060.5" y="391.0" text-anchor="middle" font-family="Liberation Sans, sans-serif" font-size="4.8" fill="#666">60</text>
<text x="1081.5" y="289.0" font-family="Liberation Sans, sans-serif" font-size="29.6" fill="#000" stroke="#000" stroke-width="0.3">L2</text>
<path d="M119 361H135V366H151V351H167V347H183V361H199V375H215H231H247H263V373H279V375H295V373H310H326H342H358V370H374V283H390V284H406V297H422V294H438V338H454V375H470V378H486V380H502V378H518V377H534V380H550V376H566V378H582V373H598V281H613V273H629V269H645V268H661H677V279H693V322H709V372H725V293H741V285H757V338H773V373H789V292H805V310H821V295H837V288H853V347H869V380H885V334H900V335H916V349H932V358H948V371H964V382H980H996H1012V384H1028V386H1044H1060H1077" stroke="#000000" stroke-width="2" fill="none" stroke-linejoin="miter" stroke-linecap="butt"/>
<path d="M119 362H135V367H151V352H167V349H183V377H199V380H215H231H247H263H279H295V377H310V379H326V378H342V379H358V380H374V287H390V290H406V300H422V298H438V369H454V380H470V381H486V382H502V381H518V380H534V382H550V380H566V381H582V380H598V284H613V277H629V275H645V272H661V273H677V286H693V363H709V380H725V296H741V291H757V369H773V380H789V296H805V314H821V298H837V294H853V373H869V381H885V336H900H916V350H932V359H948V380H964V383H980H996H1012V386H1028H1044H1060H1077" stroke="#009933" stroke-width="2" fill="none" stroke-linejoin="miter" stroke-linecap="butt"/>
<path d="M119 363H135V369H151V355H167V352H183V384H199V381H215V382H231H247H263V381H279V382H295V380H310V381H326H342V382H358V384H374V292H390V295H406V305H422V304H438V382H454H470H486V384H502V383H518V382H534V384H550V382H566V383H582V382H598V287H613V284H629V281H645V279H661V277H677V291H693V382H709V381H725V299H741V295H757V383H773V382H789V298H805V316H821V302H837V298H853V384H869H885V338H900H916V352H932V360H948V384H964V385H980H996H1012V386H1028H1044H1060H1077" stroke="#6600cc" stroke-width="2" fill="none" stroke-linejoin="miter" stroke-linecap="butt"/>
<path d="M119 363H135V369H151V355H167V352H183V383H199V381H215V382H231H247V381H263H279V382H295V380H310V381H326V380H342V381H358V383H374V293H390V297H406V306H422V305H438V382H454H470V383H486H502H518V382H534V383H550V382H566V383H582V382H598V288H613V286H629V282H645V281H661V279H677V293H693V382H709V380H725V301H741V297H757V383H773V382H789V299H805V318H821V303H837V300H853V383H869H885V339H900V340H916V354H932V362H948V384H964H980H996H1012V386H1028H1044H1060H1077" stroke="#cc6633" stroke-width="2" fill="none" stroke-linejoin="miter" stroke-linecap="butt"/>
<g class="mk"><circle cx="127.5" cy="361.5" r="4.1"/><circle cx="143.5" cy="366.5" r="4.1"/><circle cx="159.5" cy="351.5" r="4.1"/><circle cx="175.5" cy="347.5" r="4.1"/><circle cx="191.5" cy="361.5" r="4.1"/><circle cx="207.5" cy="375.5" r="4.1"/><circle cx="223.5" cy="375.5" r="4.1"/><circle cx="239.5" cy="375.5" r="4.1"/><circle cx="255.5" cy="375.5" r="4.1"/><circle cx="271.5" cy="373.5" r="4.1"/><circle cx="287.5" cy="375.5" r="4.1"/><circle cx="302.5" cy="373.5" r="4.1"/><circle cx="318.5" cy="373.5" r="4.1"/><circle cx="334.5" cy="373.5" r="4.1"/><circle cx="350.5" cy="373.5" r="4.1"/><circle cx="366.5" cy="370.5" r="4.1"/><circle cx="382.5" cy="283.5" r="4.1"/><circle cx="398.5" cy="284.5" r="4.1"/><circle cx="414.5" cy="297.5" r="4.1"/><circle cx="430.5" cy="294.5" r="4.1"/><circle cx="446.5" cy="338.5" r="4.1"/><circle cx="462.5" cy="375.5" r="4.1"/><circle cx="478.5" cy="378.5" r="4.1"/><circle cx="494.5" cy="380.5" r="4.1"/><circle cx="510.5" cy="378.5" r="4.1"/><circle cx="526.5" cy="377.5" r="4.1"/><circle cx="542.5" cy="380.5" r="4.1"/><circle cx="558.5" cy="376.5" r="4.1"/><circle cx="574.5" cy="378.5" r="4.1"/><circle cx="590.5" cy="373.5" r="4.1"/><circle cx="605.5" cy="281.5" r="4.1"/><circle cx="621.5" cy="273.5" r="4.1"/><circle cx="637.5" cy="269.5" r="4.1"/><circle cx="653.5" cy="268.5" r="4.1"/><circle cx="669.5" cy="268.5" r="4.1"/><circle cx="685.5" cy="279.5" r="4.1"/><circle cx="701.5" cy="322.5" r="4.1"/><circle cx="717.5" cy="372.5" r="4.1"/><circle cx="733.5" cy="293.5" r="4.1"/><circle cx="749.5" cy="285.5" r="4.1"/><circle cx="765.5" cy="338.5" r="4.1"/><circle cx="781.5" cy="373.5" r="4.1"/><circle cx="797.5" cy="292.5" r="4.1"/><circle cx="813.5" cy="310.5" r="4.1"/><circle cx="829.5" cy="295.5" r="4.1"/><circle cx="845.5" cy="288.5" r="4.1"/><circle cx="861.5" cy="347.5" r="4.1"/><circle cx="877.5" cy="380.5" r="4.1"/><circle cx="893.5" cy="334.5" r="4.1"/><circle cx="908.5" cy="335.5" r="4.1"/><circle cx="924.5" cy="349.5" r="4.1"/><circle cx="940.5" cy="358.5" r="4.1"/><circle cx="956.5" cy="371.5" r="4.1"/><circle cx="972.5" cy="382.5" r="4.1"/><circle cx="988.5" cy="382.5" r="4.1"/><circle cx="1004.5" cy="382.5" r="4.1"/><circle cx="1020.5" cy="384.5" r="4.1"/></g>
<g class="mg"><rect x="123.5" y="358.5" width="8" height="8"/><rect x="139.5" y="363.5" width="8" height="8"/><rect x="155.5" y="348.5" width="8" height="8"/><rect x="171.5" y="345.5" width="8" height="8"/><rect x="187.5" y="373.5" width="8" height="8"/><rect x="203.5" y="376.5" width="8" height="8"/><rect x="219.5" y="376.5" width="8" height="8"/><rect x="235.5" y="376.5" width="8" height="8"/><rect x="251.5" y="376.5" width="8" height="8"/><rect x="267.5" y="376.5" width="8" height="8"/><rect x="283.5" y="376.5" width="8" height="8"/><rect x="298.5" y="373.5" width="8" height="8"/><rect x="314.5" y="375.5" width="8" height="8"/><rect x="330.5" y="374.5" width="8" height="8"/><rect x="346.5" y="375.5" width="8" height="8"/><rect x="362.5" y="376.5" width="8" height="8"/><rect x="378.5" y="283.5" width="8" height="8"/><rect x="394.5" y="286.5" width="8" height="8"/><rect x="410.5" y="296.5" width="8" height="8"/><rect x="426.5" y="294.5" width="8" height="8"/><rect x="442.5" y="365.5" width="8" height="8"/><rect x="458.5" y="376.5" width="8" height="8"/><rect x="474.5" y="377.5" width="8" height="8"/><rect x="490.5" y="378.5" width="8" height="8"/><rect x="506.5" y="377.5" width="8" height="8"/><rect x="522.5" y="376.5" width="8" height="8"/><rect x="538.5" y="378.5" width="8" height="8"/><rect x="554.5" y="376.5" width="8" height="8"/><rect x="570.5" y="377.5" width="8" height="8"/><rect x="586.5" y="376.5" width="8" height="8"/><rect x="601.5" y="280.5" width="8" height="8"/><rect x="617.5" y="273.5" width="8" height="8"/><rect x="633.5" y="271.5" width="8" height="8"/><rect x="649.5" y="268.5" width="8" height="8"/><rect x="665.5" y="269.5" width="8" height="8"/><rect x="681.5" y="282.5" width="8" height="8"/><rect x="697.5" y="359.5" width="8" height="8"/><rect x="713.5" y="376.5" width="8" height="8"/><rect x="729.5" y="292.5" width="8" height="8"/><rect x="745.5" y="287.5" width="8" height="8"/><rect x="761.5" y="365.5" width="8" height="8"/><rect x="777.5" y="376.5" width="8" height="8"/><rect x="793.5" y="292.5" width="8" height="8"/><rect x="809.5" y="310.5" width="8" height="8"/><rect x="825.5" y="294.5" width="8" height="8"/><rect x="841.5" y="290.5" width="8" height="8"/><rect x="857.5" y="369.5" width="8" height="8"/><rect x="873.5" y="377.5" width="8" height="8"/><rect x="889.5" y="332.5" width="8" height="8"/><rect x="904.5" y="332.5" width="8" height="8"/><rect x="920.5" y="346.5" width="8" height="8"/><rect x="936.5" y="355.5" width="8" height="8"/><rect x="952.5" y="376.5" width="8" height="8"/><rect x="968.5" y="379.5" width="8" height="8"/><rect x="984.5" y="379.5" width="8" height="8"/><rect x="1000.5" y="379.5" width="8" height="8"/></g>
<g class="mp"><path d="M123.5 367.2H131.5L127.5 359.8Z"/><path d="M139.5 373.2H147.5L143.5 365.8Z"/><path d="M155.5 359.2H163.5L159.5 351.8Z"/><path d="M171.5 356.2H179.5L175.5 348.8Z"/><path d="M187.5 388.2H195.5L191.5 380.8Z"/><path d="M203.5 385.2H211.5L207.5 377.8Z"/><path d="M219.5 386.2H227.5L223.5 378.8Z"/><path d="M235.5 386.2H243.5L239.5 378.8Z"/><path d="M251.5 386.2H259.5L255.5 378.8Z"/><path d="M267.5 385.2H275.5L271.5 377.8Z"/><path d="M283.5 386.2H291.5L287.5 378.8Z"/><path d="M298.5 384.2H306.5L302.5 376.8Z"/><path d="M314.5 385.2H322.5L318.5 377.8Z"/><path d="M330.5 385.2H338.5L334.5 377.8Z"/><path d="M346.5 386.2H354.5L350.5 378.8Z"/><path d="M362.5 388.2H370.5L366.5 380.8Z"/><path d="M378.5 296.2H386.5L382.5 288.8Z"/><path d="M394.5 299.2H402.5L398.5 291.8Z"/><path d="M410.5 309.2H418.5L414.5 301.8Z"/><path d="M426.5 308.2H434.5L430.5 300.8Z"/><path d="M442.5 386.2H450.5L446.5 378.8Z"/><path d="M458.5 386.2H466.5L462.5 378.8Z"/><path d="M474.5 386.2H482.5L478.5 378.8Z"/><path d="M490.5 388.2H498.5L494.5 380.8Z"/><path d="M506.5 387.2H514.5L510.5 379.8Z"/><path d="M522.5 386.2H530.5L526.5 378.8Z"/><path d="M538.5 388.2H546.5L542.5 380.8Z"/><path d="M554.5 386.2H562.5L558.5 378.8Z"/><path d="M570.5 387.2H578.5L574.5 379.8Z"/><path d="M586.5 386.2H594.5L590.5 378.8Z"/><path d="M601.5 291.2H609.5L605.5 283.8Z"/><path d="M617.5 288.2H625.5L621.5 280.8Z"/><path d="M633.5 285.2H641.5L637.5 277.8Z"/><path d="M649.5 283.2H657.5L653.5 275.8Z"/><path d="M665.5 281.2H673.5L669.5 273.8Z"/><path d="M681.5 295.2H689.5L685.5 287.8Z"/><path d="M697.5 386.2H705.5L701.5 378.8Z"/><path d="M713.5 385.2H721.5L717.5 377.8Z"/><path d="M729.5 303.2H737.5L733.5 295.8Z"/><path d="M745.5 299.2H753.5L749.5 291.8Z"/><path d="M761.5 387.2H769.5L765.5 379.8Z"/><path d="M777.5 386.2H785.5L781.5 378.8Z"/><path d="M793.5 302.2H801.5L797.5 294.8Z"/><path d="M809.5 320.2H817.5L813.5 312.8Z"/><path d="M825.5 306.2H833.5L829.5 298.8Z"/><path d="M841.5 302.2H849.5L845.5 294.8Z"/><path d="M857.5 388.2H865.5L861.5 380.8Z"/><path d="M873.5 388.2H881.5L877.5 380.8Z"/><path d="M889.5 342.2H897.5L893.5 334.8Z"/><path d="M904.5 342.2H912.5L908.5 334.8Z"/><path d="M920.5 356.2H928.5L924.5 348.8Z"/><path d="M936.5 364.2H944.5L940.5 356.8Z"/><path d="M952.5 388.2H960.5L956.5 380.8Z"/><path d="M968.5 389.2H976.5L972.5 381.8Z"/><path d="M984.5 389.2H992.5L988.5 381.8Z"/><path d="M1000.5 389.2H1008.5L1004.5 381.8Z"/></g>
<g class="mo"><path d="M123.5 359.8H131.5L127.5 367.2Z"/><path d="M139.5 365.8H147.5L143.5 373.2Z"/><path d="M155.5 351.8H163.5L159.5 359.2Z"/><path d="M171.5 348.8H179.5L175.5 356.2Z"/><path d="M187.5 379.8H195.5L191.5 387.2Z"/><path d="M203.5 377.8H211.5L207.5 385.2Z"/><path d="M219.5 378.8H227.5L223.5 386.2Z"/><path d="M235.5 378.8H243.5L239.5 386.2Z"/><path d="M251.5 377.8H259.5L255.5 385.2Z"/><path d="M267.5 377.8H275.5L271.5 385.2Z"/><path d="M283.5 378.8H291.5L287.5 386.2Z"/><path d="M298.5 376.8H306.5L302.5 384.2Z"/><path d="M314.5 377.8H322.5L318.5 385.2Z"/><path d="M330.5 376.8H338.5L334.5 384.2Z"/><path d="M346.5 377.8H354.5L350.5 385.2Z"/><path d="M362.5 379.8H370.5L366.5 387.2Z"/><path d="M378.5 289.8H386.5L382.5 297.2Z"/><path d="M394.5 293.8H402.5L398.5 301.2Z"/><path d="M410.5 302.8H418.5L414.5 310.2Z"/><path d="M426.5 301.8H434.5L430.5 309.2Z"/><path d="M442.5 378.8H450.5L446.5 386.2Z"/><path d="M458.5 378.8H466.5L462.5 386.2Z"/><path d="M474.5 379.8H482.5L478.5 387.2Z"/><path d="M490.5 379.8H498.5L494.5 387.2Z"/><path d="M506.5 379.8H514.5L510.5 387.2Z"/><path d="M522.5 378.8H530.5L526.5 386.2Z"/><path d="M538.5 379.8H546.5L542.5 387.2Z"/><path d="M554.5 378.8H562.5L558.5 386.2Z"/><path d="M570.5 379.8H578.5L574.5 387.2Z"/><path d="M586.5 378.8H594.5L590.5 386.2Z"/><path d="M601.5 284.8H609.5L605.5 292.2Z"/><path d="M617.5 282.8H625.5L621.5 290.2Z"/><path d="M633.5 278.8H641.5L637.5 286.2Z"/><path d="M649.5 277.8H657.5L653.5 285.2Z"/><path d="M665.5 275.8H673.5L669.5 283.2Z"/><path d="M681.5 289.8H689.5L685.5 297.2Z"/><path d="M697.5 378.8H705.5L701.5 386.2Z"/><path d="M713.5 376.8H721.5L717.5 384.2Z"/><path d="M729.5 297.8H737.5L733.5 305.2Z"/><path d="M745.5 293.8H753.5L749.5 301.2Z"/><path d="M761.5 379.8H769.5L765.5 387.2Z"/><path d="M777.5 378.8H785.5L781.5 386.2Z"/><path d="M793.5 295.8H801.5L797.5 303.2Z"/><path d="M809.5 314.8H817.5L813.5 322.2Z"/><path d="M825.5 299.8H833.5L829.5 307.2Z"/><path d="M841.5 296.8H849.5L845.5 304.2Z"/><path d="M857.5 379.8H865.5L861.5 387.2Z"/><path d="M873.5 379.8H881.5L877.5 387.2Z"/><path d="M889.5 335.8H897.5L893.5 343.2Z"/><path d="M904.5 336.8H912.5L908.5 344.2Z"/><path d="M920.5 350.8H928.5L924.5 358.2Z"/><path d="M936.5 358.8H944.5L940.5 366.2Z"/><path d="M952.5 380.8H960.5L956.5 388.2Z"/><path d="M968.5 380.8H976.5L972.5 388.2Z"/><path d="M984.5 380.8H992.5L988.5 388.2Z"/><path d="M1000.5 380.8H1008.5L1004.5 388.2Z"/></g>
<path d="M135.5 416.0V540.5 M167.5 416.0V540.5 M199.5 416.0V540.5 M231.5 416.0V540.5 M263.5 416.0V540.5 M295.5 416.0V540.5 M326.5 416.0V540.5 M358.5 416.0V540.5 M390.5 416.0V540.5 M422.5 416.0V540.5 M454.5 416.0V540.5 M486.5 416.0V540.5 M518.5 416.0V540.5 M550.5 416.0V540.5 M582.5 416.0V540.5 M613.5 416.0V540.5 M645.5 416.0V540.5 M677.5 416.0V540.5 M709.5 416.0V540.5 M741.5 416.0V540.5 M773.5 416.0V540.5 M805.5 416.0V540.5 M837.5 416.0V540.5 M869.5 416.0V540.5 M900.5 416.0V540.5 M932.5 416.0V540.5 M964.5 416.0V540.5 M996.5 416.0V540.5 M1028.5 416.0V540.5 M1060.5 416.0V540.5 M119.0 527.5H1076.5 M119.0 515.5H1076.5 M119.0 502.5H1076.5 M119.0 490.5H1076.5 M119.0 477.5H1076.5 M119.0 465.5H1076.5 M119.0 452.5H1076.5 M119.0 440.5H1076.5 M119.0 427.5H1076.5" stroke="#000" stroke-width="1" stroke-dasharray="1 2" fill="none"/>
<path d="M119.5 540.5h29 M119.5 537.5h14 M119.5 535.5h14 M119.5 532.5h14 M119.5 530.5h14 M119.5 527.5h29 M119.5 525.5h14 M119.5 522.5h14 M119.5 520.5h14 M119.5 517.5h14 M119.5 515.5h29 M119.5 512.5h14 M119.5 510.5h14 M119.5 507.5h14 M119.5 505.5h14 M119.5 502.5h29 M119.5 500.5h14 M119.5 497.5h14 M119.5 495.5h14 M119.5 492.5h14 M119.5 490.5h29 M119.5 487.5h14 M119.5 485.5h14 M119.5 482.5h14 M119.5 480.5h14 M119.5 477.5h29 M119.5 475.5h14 M119.5 472.5h14 M119.5 470.5h14 M119.5 467.5h14 M119.5 465.5h29 M119.5 462.5h14 M119.5 460.5h14 M119.5 457.5h14 M119.5 455.5h14 M119.5 452.5h29 M119.5 450.5h14 M119.5 447.5h14 M119.5 445.5h14 M119.5 442.5h14 M119.5 440.5h29 M119.5 437.5h14 M119.5 435.5h14 M119.5 432.5h14 M119.5 430.5h14 M119.5 427.5h29 M119.5 424.5h14 M119.5 422.5h14 M119.5 419.5h14 M119.5 417.5h14 M135.5 540.5v-3.5 M167.5 540.5v-3.5 M199.5 540.5v-3.5 M231.5 540.5v-3.5 M263.5 540.5v-3.5 M295.5 540.5v-3.5 M326.5 540.5v-3.5 M358.5 540.5v-3.5 M390.5 540.5v-3.5 M422.5 540.5v-3.5 M454.5 540.5v-3.5 M486.5 540.5v-3.5 M518.5 540.5v-3.5 M550.5 540.5v-3.5 M582.5 540.5v-3.5 M613.5 540.5v-3.5 M645.5 540.5v-3.5 M677.5 540.5v-3.5 M709.5 540.5v-3.5 M741.5 540.5v-3.5 M773.5 540.5v-3.5 M805.5 540.5v-3.5 M837.5 540.5v-3.5 M869.5 540.5v-3.5 M900.5 540.5v-3.5 M932.5 540.5v-3.5 M964.5 540.5v-3.5 M996.5 540.5v-3.5 M1028.5 540.5v-3.5 M1060.5 540.5v-3.5" stroke="#000" stroke-width="1" fill="none"/>
<rect x="119.5" y="416.5" width="957.0" height="124.0" fill="none" stroke="#000" stroke-width="1"/>
<text x="113" y="547.1" text-anchor="end" font-family="Liberation Sans, sans-serif" font-size="16.5" fill="#000" stroke="#000" stroke-width="0.3">0</text>
<text x="113" y="534.5" text-anchor="end" font-family="Liberation Sans, sans-serif" font-size="16.5" fill="#000" stroke="#000" stroke-width="0.3">100</text>
<text x="113" y="522.0" text-anchor="end" font-family="Liberation Sans, sans-serif" font-size="16.5" fill="#000" stroke="#000" stroke-width="0.3">200</text>
<text x="113" y="509.4" text-anchor="end" font-family="Liberation Sans, sans-serif" font-size="16.5" fill="#000" stroke="#000" stroke-width="0.3">300</text>
<text x="113" y="496.9" text-anchor="end" font-family="Liberation Sans, sans-serif" font-size="16.5" fill="#000" stroke="#000" stroke-width="0.3">400</text>
<text x="113" y="484.3" text-anchor="end" font-family="Liberation Sans, sans-serif" font-size="16.5" fill="#000" stroke="#000" stroke-width="0.3">500</text>
<text x="113" y="471.8" text-anchor="end" font-family="Liberation Sans, sans-serif" font-size="16.5" fill="#000" stroke="#000" stroke-width="0.3">600</text>
<text x="113" y="459.2" text-anchor="end" font-family="Liberation Sans, sans-serif" font-size="16.5" fill="#000" stroke="#000" stroke-width="0.3">700</text>
<text x="113" y="446.7" text-anchor="end" font-family="Liberation Sans, sans-serif" font-size="16.5" fill="#000" stroke="#000" stroke-width="0.3">800</text>
<text x="113" y="434.1" text-anchor="end" font-family="Liberation Sans, sans-serif" font-size="16.5" fill="#000" stroke="#000" stroke-width="0.3">900</text>
<text x="135.5" y="545.0" text-anchor="middle" font-family="Liberation Sans, sans-serif" font-size="4.8" fill="#666">2</text>
<text x="167.4" y="545.0" text-anchor="middle" font-family="Liberation Sans, sans-serif" font-size="4.8" fill="#666">4</text>
<text x="199.3" y="545.0" text-anchor="middle" font-family="Liberation Sans, sans-serif" font-size="4.8" fill="#666">6</text>
<text x="231.2" y="545.0" text-anchor="middle" font-family="Liberation Sans, sans-serif" font-size="4.8" fill="#666">8</text>
<text x="263.1" y="545.0" text-anchor="middle" font-family="Liberation Sans, sans-serif" font-size="4.8" fill="#666">10</text>
<text x="295.0" y="545.0" text-anchor="middle" font-family="Liberation Sans, sans-serif" font-size="4.8" fill="#666">12</text>
<text x="326.9" y="545.0" text-anchor="middle" font-family="Liberation Sans, sans-serif" font-size="4.8" fill="#666">14</text>
<text x="358.8" y="545.0" text-anchor="middle" font-family="Liberation Sans, sans-serif" font-size="4.8" fill="#666">16</text>
<text x="390.7" y="545.0" text-anchor="middle" font-family="Liberation Sans, sans-serif" font-size="4.8" fill="#666">18</text>
<text x="422.6" y="545.0" text-anchor="middle" font-family="Liberation Sans, sans-serif" font-size="4.8" fill="#666">20</text>
<text x="454.5" y="545.0" text-anchor="middle" font-family="Liberation Sans, sans-serif" font-size="4.8" fill="#666">22</text>
<text x="486.4" y="545.0" text-anchor="middle" font-family="Liberation Sans, sans-serif" font-size="4.8" fill="#666">24</text>
<text x="518.3" y="545.0" text-anchor="middle" font-family="Liberation Sans, sans-serif" font-size="4.8" fill="#666">26</text>
<text x="550.2" y="545.0" text-anchor="middle" font-family="Liberation Sans, sans-serif" font-size="4.8" fill="#666">28</text>
<text x="582.1" y="545.0" text-anchor="middle" font-family="Liberation Sans, sans-serif" font-size="4.8" fill="#666">30</text>
<text x="613.9" y="545.0" text-anchor="middle" font-family="Liberation Sans, sans-serif" font-size="4.8" fill="#666">32</text>
<text x="645.8" y="545.0" text-anchor="middle" font-family="Liberation Sans, sans-serif" font-size="4.8" fill="#666">34</text>
<text x="677.7" y="545.0" text-anchor="middle" font-family="Liberation Sans, sans-serif" font-size="4.8" fill="#666">36</text>
<text x="709.6" y="545.0" text-anchor="middle" font-family="Liberation Sans, sans-serif" font-size="4.8" fill="#666">38</text>
<text x="741.5" y="545.0" text-anchor="middle" font-family="Liberation Sans, sans-serif" font-size="4.8" fill="#666">40</text>
<text x="773.4" y="545.0" text-anchor="middle" font-family="Liberation Sans, sans-serif" font-size="4.8" fill="#666">42</text>
<text x="805.3" y="545.0" text-anchor="middle" font-family="Liberation Sans, sans-serif" font-size="4.8" fill="#666">44</text>
<text x="837.2" y="545.0" text-anchor="middle" font-family="Liberation Sans, sans-serif" font-size="4.8" fill="#666">46</text>
<text x="869.1" y="545.0" text-anchor="middle" font-family="Liberation Sans, sans-serif" font-size="4.8" fill="#666">48</text>
<text x="901.0" y="545.0" text-anchor="middle" font-family="Liberation Sans, sans-serif" font-size="4.8" fill="#666">50</text>
<text x="932.9" y="545.0" text-anchor="middle" font-family="Liberation Sans, sans-serif" font-size="4.8" fill="#666">52</text>
<text x="964.8" y="545.0" text-anchor="middle" font-family="Liberation Sans, sans-serif" font-size="4.8" fill="#666">54</text>
<text x="996.7" y="545.0" text-anchor="middle" font-family="Liberation Sans, sans-serif" font-size="4.8" fill="#666">56</text>
<text x="1028.6" y="545.0" text-anchor="middle" font-family="Liberation Sans, sans-serif" font-size="4.8" fill="#666">58</text>
<text x="1060.5" y="545.0" text-anchor="middle" font-family="Liberation Sans, sans-serif" font-size="4.8" fill="#666">60</text>
<text x="1081.5" y="443.0" font-family="Liberation Sans, sans-serif" font-size="29.6" fill="#000" stroke="#000" stroke-width="0.3">L3</text>
<path d="M119 521H135V516H151V508H167V498H183V530H199V528H215V530H231H247V528H263H279V527H295H310V528H326H342V529H358V485H374V439H390V448H406V453H422H438V528H454V531H470V533H486H502V532H518V533H534H550V531H566H582V493H598V428H613H629V422H645V427H661V431H677V437H693V520H709V492H725V441H741V447H757V530H773V494H789V456H805V458H821V447H837V460H853V534H869V507H885V491H900V495H916V514H932H948V535H964V536H980H996H1012V540H1028H1044H1060H1077" stroke="#000000" stroke-width="2" fill="none" stroke-linejoin="miter" stroke-linecap="butt"/>
<path d="M119 521H135V517H151V509H167V499H183V532H199H215V534H231H247V533H263H279H295V532H310V534H326H342H358V522H374V444H390V451H406V457H422H438V533H454V534H470V536H486H502V534H518V535H534V536H550V534H566H582V524H598V431H613V432H629V428H645V431H661V434H677V442H693V532H709V523H725V448H741H757V534H773V523H789V459H805V461H821V449H837V462H853V535H869V528H885V495H900V497H916V515H932H948V537H964H980H996H1012V540H1028H1044H1060H1077" stroke="#009933" stroke-width="2" fill="none" stroke-linejoin="miter" stroke-linecap="butt"/>
<path d="M119 523H135V518H151V510H167V501H183V538H199V534H215V538H231H247V536H263V535H279H295H310V536H326H342H358V537H374V450H390V456H406V463H422V460H438V537H454H470V538H486V537H502H518H534H550V536H566H582V538H598V437H613V439H629V433H645V437H661V439H677V448H693V535H709V537H725V452H741V451H757V536H773V537H789V464H805V465H821V453H837V464H853V537H869V538H885V496H900V498H916V516H932V515H948V537H964H980H996H1012V540H1028H1044H1060H1077" stroke="#6600cc" stroke-width="2" fill="none" stroke-linejoin="miter" stroke-linecap="butt"/>
<path d="M119 524H135V519H151V512H167V502H183V537H199V535H215V536H231V537H247V536H263V535H279H295H310V536H326H342H358H374V452H390V458H406V464H422V462H438V536H454H470V537H486H502V536H518V537H534H550V536H566V535H582V537H598V439H613V440H629V435H645V439H661V441H677V451H693V536H709H725V454H741V452H757V537H773H789V465H805V466H821V454H837V465H853V537H869H885V498H900V499H916V516H932H948V537H964H980H996H1012V540H1028H1044H1060H1077" stroke="#cc6633" stroke-width="2" fill="none" stroke-linejoin="miter" stroke-linecap="butt"/>
<g class="mk"><circle cx="127.5" cy="521.5" r="4.1"/><circle cx="143.5" cy="516.5" r="4.1"/><circle cx="159.5" cy="508.5" r="4.1"/><circle cx="175.5" cy="498.5" r="4.1"/><circle cx="191.5" cy="530.5" r="4.1"/><circle cx="207.5" cy="528.5" r="4.1"/><circle cx="223.5" cy="530.5" r="4.1"/><circle cx="239.5" cy="530.5" r="4.1"/><circle cx="255.5" cy="528.5" r="4.1"/><circle cx="271.5" cy="528.5" r="4.1"/><circle cx="287.5" cy="527.5" r="4.1"/><circle cx="302.5" cy="527.5" r="4.1"/><circle cx="318.5" cy="528.5" r="4.1"/><circle cx="334.5" cy="528.5" r="4.1"/><circle cx="350.5" cy="529.5" r="4.1"/><circle cx="366.5" cy="485.5" r="4.1"/><circle cx="382.5" cy="439.5" r="4.1"/><circle cx="398.5" cy="448.5" r="4.1"/><circle cx="414.5" cy="453.5" r="4.1"/><circle cx="430.5" cy="453.5" r="4.1"/><circle cx="446.5" cy="528.5" r="4.1"/><circle cx="462.5" cy="531.5" r="4.1"/><circle cx="478.5" cy="533.5" r="4.1"/><circle cx="494.5" cy="533.5" r="4.1"/><circle cx="510.5" cy="532.5" r="4.1"/><circle cx="526.5" cy="533.5" r="4.1"/><circle cx="542.5" cy="533.5" r="4.1"/><circle cx="558.5" cy="531.5" r="4.1"/><circle cx="574.5" cy="531.5" r="4.1"/><circle cx="590.5" cy="493.5" r="4.1"/><circle cx="605.5" cy="428.5" r="4.1"/><circle cx="621.5" cy="428.5" r="4.1"/><circle cx="637.5" cy="422.5" r="4.1"/><circle cx="653.5" cy="427.5" r="4.1"/><circle cx="669.5" cy="431.5" r="4.1"/><circle cx="685.5" cy="437.5" r="4.1"/><circle cx="701.5" cy="520.5" r="4.1"/><circle cx="717.5" cy="492.5" r="4.1"/><circle cx="733.5" cy="441.5" r="4.1"/><circle cx="749.5" cy="447.5" r="4.1"/><circle cx="765.5" cy="530.5" r="4.1"/><circle cx="781.5" cy="494.5" r="4.1"/><circle cx="797.5" cy="456.5" r="4.1"/><circle cx="813.5" cy="458.5" r="4.1"/><circle cx="829.5" cy="447.5" r="4.1"/><circle cx="845.5" cy="460.5" r="4.1"/><circle cx="861.5" cy="534.5" r="4.1"/><circle cx="877.5" cy="507.5" r="4.1"/><circle cx="893.5" cy="491.5" r="4.1"/><circle cx="908.5" cy="495.5" r="4.1"/><circle cx="924.5" cy="514.5" r="4.1"/><circle cx="940.5" cy="514.5" r="4.1"/><circle cx="956.5" cy="535.5" r="4.1"/><circle cx="972.5" cy="536.5" r="4.1"/><circle cx="988.5" cy="536.5" r="4.1"/><circle cx="1004.5" cy="536.5" r="4.1"/></g>
<g class="mg"><rect x="123.5" y="517.5" width="8" height="8"/><rect x="139.5" y="513.5" width="8" height="8"/><rect x="155.5" y="505.5" width="8" height="8"/><rect x="171.5" y="495.5" width="8" height="8"/><rect x="187.5" y="528.5" width="8" height="8"/><rect x="203.5" y="528.5" width="8" height="8"/><rect x="219.5" y="530.5" width="8" height="8"/><rect x="235.5" y="530.5" width="8" height="8"/><rect x="251.5" y="529.5" width="8" height="8"/><rect x="267.5" y="529.5" width="8" height="8"/><rect x="283.5" y="529.5" width="8" height="8"/><rect x="298.5" y="528.5" width="8" height="8"/><rect x="314.5" y="530.5" width="8" height="8"/><rect x="330.5" y="530.5" width="8" height="8"/><rect x="346.5" y="530.5" width="8" height="8"/><rect x="362.5" y="518.5" width="8" height="8"/><rect x="378.5" y="440.5" width="8" height="8"/><rect x="394.5" y="447.5" width="8" height="8"/><rect x="410.5" y="453.5" width="8" height="8"/><rect x="426.5" y="453.5" width="8" height="8"/><rect x="442.5" y="529.5" width="8" height="8"/><rect x="458.5" y="530.5" width="8" height="8"/><rect x="474.5" y="532.5" width="8" height="8"/><rect x="490.5" y="532.5" width="8" height="8"/><rect x="506.5" y="530.5" width="8" height="8"/><rect x="522.5" y="531.5" width="8" height="8"/><rect x="538.5" y="532.5" width="8" height="8"/><rect x="554.5" y="530.5" width="8" height="8"/><rect x="570.5" y="530.5" width="8" height="8"/><rect x="586.5" y="520.5" width="8" height="8"/><rect x="601.5" y="427.5" width="8" height="8"/><rect x="617.5" y="428.5" width="8" height="8"/><rect x="633.5" y="424.5" width="8" height="8"/><rect x="649.5" y="427.5" width="8" height="8"/><rect x="665.5" y="430.5" width="8" height="8"/><rect x="681.5" y="438.5" width="8" height="8"/><rect x="697.5" y="528.5" width="8" height="8"/><rect x="713.5" y="519.5" width="8" height="8"/><rect x="729.5" y="444.5" width="8" height="8"/><rect x="745.5" y="444.5" width="8" height="8"/><rect x="761.5" y="530.5" width="8" height="8"/><rect x="777.5" y="519.5" width="8" height="8"/><rect x="793.5" y="455.5" width="8" height="8"/><rect x="809.5" y="457.5" width="8" height="8"/><rect x="825.5" y="445.5" width="8" height="8"/><rect x="841.5" y="458.5" width="8" height="8"/><rect x="857.5" y="531.5" width="8" height="8"/><rect x="873.5" y="524.5" width="8" height="8"/><rect x="889.5" y="491.5" width="8" height="8"/><rect x="904.5" y="493.5" width="8" height="8"/><rect x="920.5" y="511.5" width="8" height="8"/><rect x="936.5" y="511.5" width="8" height="8"/><rect x="952.5" y="533.5" width="8" height="8"/><rect x="968.5" y="533.5" width="8" height="8"/><rect x="984.5" y="533.5" width="8" height="8"/><rect x="1000.5" y="533.5" width="8" height="8"/></g>
<g class="mp"><path d="M123.5 527.2H131.5L127.5 519.8Z"/><path d="M139.5 522.2H147.5L143.5 514.8Z"/><path d="M155.5 514.2H163.5L159.5 506.8Z"/><path d="M171.5 505.2H179.5L175.5 497.8Z"/><path d="M187.5 542.2H195.5L191.5 534.8Z"/><path d="M203.5 538.2H211.5L207.5 530.8Z"/><path d="M219.5 542.2H227.5L223.5 534.8Z"/><path d="M235.5 542.2H243.5L239.5 534.8Z"/><path d="M251.5 540.2H259.5L255.5 532.8Z"/><path d="M267.5 539.2H275.5L271.5 531.8Z"/><path d="M283.5 539.2H291.5L287.5 531.8Z"/><path d="M298.5 539.2H306.5L302.5 531.8Z"/><path d="M314.5 540.2H322.5L318.5 532.8Z"/><path d="M330.5 540.2H338.5L334.5 532.8Z"/><path d="M346.5 540.2H354.5L350.5 532.8Z"/><path d="M362.5 541.2H370.5L366.5 533.8Z"/><path d="M378.5 454.2H386.5L382.5 446.8Z"/><path d="M394.5 460.2H402.5L398.5 452.8Z"/><path d="M410.5 467.2H418.5L414.5 459.8Z"/><path d="M426.5 464.2H434.5L430.5 456.8Z"/><path d="M442.5 541.2H450.5L446.5 533.8Z"/><path d="M458.5 541.2H466.5L462.5 533.8Z"/><path d="M474.5 542.2H482.5L478.5 534.8Z"/><path d="M490.5 541.2H498.5L494.5 533.8Z"/><path d="M506.5 541.2H514.5L510.5 533.8Z"/><path d="M522.5 541.2H530.5L526.5 533.8Z"/><path d="M538.5 541.2H546.5L542.5 533.8Z"/><path d="M554.5 540.2H562.5L558.5 532.8Z"/><path d="M570.5 540.2H578.5L574.5 532.8Z"/><path d="M586.5 542.2H594.5L590.5 534.8Z"/><path d="M601.5 441.2H609.5L605.5 433.8Z"/><path d="M617.5 443.2H625.5L621.5 435.8Z"/><path d="M633.5 437.2H641.5L637.5 429.8Z"/><path d="M649.5 441.2H657.5L653.5 433.8Z"/><path d="M665.5 443.2H673.5L669.5 435.8Z"/><path d="M681.5 452.2H689.5L685.5 444.8Z"/><path d="M697.5 539.2H705.5L701.5 531.8Z"/><path d="M713.5 541.2H721.5L717.5 533.8Z"/><path d="M729.5 456.2H737.5L733.5 448.8Z"/><path d="M745.5 455.2H753.5L749.5 447.8Z"/><path d="M761.5 540.2H769.5L765.5 532.8Z"/><path d="M777.5 541.2H785.5L781.5 533.8Z"/><path d="M793.5 468.2H801.5L797.5 460.8Z"/><path d="M809.5 469.2H817.5L813.5 461.8Z"/><path d="M825.5 457.2H833.5L829.5 449.8Z"/><path d="M841.5 468.2H849.5L845.5 460.8Z"/><path d="M857.5 541.2H865.5L861.5 533.8Z"/><path d="M873.5 542.2H881.5L877.5 534.8Z"/><path d="M889.5 500.2H897.5L893.5 492.8Z"/><path d="M904.5 502.2H912.5L908.5 494.8Z"/><path d="M920.5 520.2H928.5L924.5 512.8Z"/><path d="M936.5 519.2H944.5L940.5 511.8Z"/><path d="M952.5 541.2H960.5L956.5 533.8Z"/><path d="M968.5 541.2H976.5L972.5 533.8Z"/><path d="M984.5 541.2H992.5L988.5 533.8Z"/><path d="M1000.5 541.2H1008.5L1004.5 533.8Z"/></g>
<g class="mo"><path d="M123.5 520.8H131.5L127.5 528.2Z"/><path d="M139.5 515.8H147.5L143.5 523.2Z"/><path d="M155.5 508.8H163.5L159.5 516.2Z"/><path d="M171.5 498.8H179.5L175.5 506.2Z"/><path d="M187.5 533.8H195.5L191.5 541.2Z"/><path d="M203.5 531.8H211.5L207.5 539.2Z"/><path d="M219.5 532.8H227.5L223.5 540.2Z"/><path d="M235.5 533.8H243.5L239.5 541.2Z"/><path d="M251.5 532.8H259.5L255.5 540.2Z"/><path d="M267.5 531.8H275.5L271.5 539.2Z"/><path d="M283.5 531.8H291.5L287.5 539.2Z"/><path d="M298.5 531.8H306.5L302.5 539.2Z"/><path d="M314.5 532.8H322.5L318.5 540.2Z"/><path d="M330.5 532.8H338.5L334.5 540.2Z"/><path d="M346.5 532.8H354.5L350.5 540.2Z"/><path d="M362.5 532.8H370.5L366.5 540.2Z"/><path d="M378.5 448.8H386.5L382.5 456.2Z"/><path d="M394.5 454.8H402.5L398.5 462.2Z"/><path d="M410.5 460.8H418.5L414.5 468.2Z"/><path d="M426.5 458.8H434.5L430.5 466.2Z"/><path d="M442.5 532.8H450.5L446.5 540.2Z"/><path d="M458.5 532.8H466.5L462.5 540.2Z"/><path d="M474.5 533.8H482.5L478.5 541.2Z"/><path d="M490.5 533.8H498.5L494.5 541.2Z"/><path d="M506.5 532.8H514.5L510.5 540.2Z"/><path d="M522.5 533.8H530.5L526.5 541.2Z"/><path d="M538.5 533.8H546.5L542.5 541.2Z"/><path d="M554.5 532.8H562.5L558.5 540.2Z"/><path d="M570.5 531.8H578.5L574.5 539.2Z"/><path d="M586.5 533.8H594.5L590.5 541.2Z"/><path d="M601.5 435.8H609.5L605.5 443.2Z"/><path d="M617.5 436.8H625.5L621.5 444.2Z"/><path d="M633.5 431.8H641.5L637.5 439.2Z"/><path d="M649.5 435.8H657.5L653.5 443.2Z"/><path d="M665.5 437.8H673.5L669.5 445.2Z"/><path d="M681.5 447.8H689.5L685.5 455.2Z"/><path d="M697.5 532.8H705.5L701.5 540.2Z"/><path d="M713.5 532.8H721.5L717.5 540.2Z"/><path d="M729.5 450.8H737.5L733.5 458.2Z"/><path d="M745.5 448.8H753.5L749.5 456.2Z"/><path d="M761.5 533.8H769.5L765.5 541.2Z"/><path d="M777.5 533.8H785.5L781.5 541.2Z"/><path d="M793.5 461.8H801.5L797.5 469.2Z"/><path d="M809.5 462.8H817.5L813.5 470.2Z"/><path d="M825.5 450.8H833.5L829.5 458.2Z"/><path d="M841.5 461.8H849.5L845.5 469.2Z"/><path d="M857.5 533.8H865.5L861.5 541.2Z"/><path d="M873.5 533.8H881.5L877.5 541.2Z"/><path d="M889.5 494.8H897.5L893.5 502.2Z"/><path d="M904.5 495.8H912.5L908.5 503.2Z"/><path d="M920.5 512.8H928.5L924.5 520.2Z"/><path d="M936.5 512.8H944.5L940.5 520.2Z"/><path d="M952.5 533.8H960.5L956.5 541.2Z"/><path d="M968.5 533.8H976.5L972.5 541.2Z"/><path d="M984.5 533.8H992.5L988.5 541.2Z"/><path d="M1000.5 533.8H1008.5L1004.5 541.2Z"/></g>
<path d="M135.5 571.0V694.5 M167.5 571.0V694.5 M199.5 571.0V694.5 M231.5 571.0V694.5 M263.5 571.0V694.5 M295.5 571.0V694.5 M326.5 571.0V694.5 M358.5 571.0V694.5 M390.5 571.0V694.5 M422.5 571.0V694.5 M454.5 571.0V694.5 M486.5 571.0V694.5 M518.5 571.0V694.5 M550.5 571.0V694.5 M582.5 571.0V694.5 M613.5 571.0V694.5 M645.5 571.0V694.5 M677.5 571.0V694.5 M709.5 571.0V694.5 M741.5 571.0V694.5 M773.5 571.0V694.5 M805.5 571.0V694.5 M837.5 571.0V694.5 M869.5 571.0V694.5 M900.5 571.0V694.5 M932.5 571.0V694.5 M964.5 571.0V694.5 M996.5 571.0V694.5 M1028.5 571.0V694.5 M1060.5 571.0V694.5 M119.0 682.5H1076.5 M119.0 669.5H1076.5 M119.0 656.5H1076.5 M119.0 644.5H1076.5 M119.0 631.5H1076.5 M119.0 618.5H1076.5 M119.0 606.5H1076.5 M119.0 593.5H1076.5 M119.0 580.5H1076.5" stroke="#000" stroke-width="1" stroke-dasharray="1 2" fill="none"/>
<path d="M119.5 694.5h29 M119.5 692.5h14 M119.5 689.5h14 M119.5 687.5h14 M119.5 684.5h14 M119.5 682.5h29 M119.5 679.5h14 M119.5 677.5h14 M119.5 674.5h14 M119.5 672.5h14 M119.5 669.5h29 M119.5 667.5h14 M119.5 664.5h14 M119.5 661.5h14 M119.5 659.5h14 M119.5 656.5h29 M119.5 654.5h14 M119.5 651.5h14 M119.5 649.5h14 M119.5 646.5h14 M119.5 644.5h29 M119.5 641.5h14 M119.5 639.5h14 M119.5 636.5h14 M119.5 634.5h14 M119.5 631.5h29 M119.5 629.5h14 M119.5 626.5h14 M119.5 623.5h14 M119.5 621.5h14 M119.5 618.5h29 M119.5 616.5h14 M119.5 613.5h14 M119.5 611.5h14 M119.5 608.5h14 M119.5 606.5h29 M119.5 603.5h14 M119.5 601.5h14 M119.5 598.5h14 M119.5 596.5h14 M119.5 593.5h29 M119.5 591.5h14 M119.5 588.5h14 M119.5 585.5h14 M119.5 583.5h14 M119.5 580.5h29 M119.5 578.5h14 M119.5 575.5h14 M119.5 573.5h14 M135.5 694.5v-3.5 M167.5 694.5v-3.5 M199.5 694.5v-3.5 M231.5 694.5v-3.5 M263.5 694.5v-3.5 M295.5 694.5v-3.5 M326.5 694.5v-3.5 M358.5 694.5v-3.5 M390.5 694.5v-3.5 M422.5 694.5v-3.5 M454.5 694.5v-3.5 M486.5 694.5v-3.5 M518.5 694.5v-3.5 M550.5 694.5v-3.5 M582.5 694.5v-3.5 M613.5 694.5v-3.5 M645.5 694.5v-3.5 M677.5 694.5v-3.5 M709.5 694.5v-3.5 M741.5 694.5v-3.5 M773.5 694.5v-3.5 M805.5 694.5v-3.5 M837.5 694.5v-3.5 M869.5 694.5v-3.5 M900.5 694.5v-3.5 M932.5 694.5v-3.5 M964.5 694.5v-3.5 M996.5 694.5v-3.5 M1028.5 694.5v-3.5 M1060.5 694.5v-3.5" stroke="#000" stroke-width="1" fill="none"/>
<rect x="119.5" y="571.5" width="957.0" height="123.0" fill="none" stroke="#000" stroke-width="1"/>
<text x="113" y="701.5" text-anchor="end" font-family="Liberation Sans, sans-serif" font-size="16.5" fill="#000" stroke="#000" stroke-width="0.3">0</text>
<text x="113" y="688.9" text-anchor="end" font-family="Liberation Sans, sans-serif" font-size="16.5" fill="#000" stroke="#000" stroke-width="0.3">100</text>
<text x="113" y="676.2" text-anchor="end" font-family="Liberation Sans, sans-serif" font-size="16.5" fill="#000" stroke="#000" stroke-width="0.3">200</text>
<text x="113" y="663.5" text-anchor="end" font-family="Liberation Sans, sans-serif" font-size="16.5" fill="#000" stroke="#000" stroke-width="0.3">300</text>
<text x="113" y="650.9" text-anchor="end" font-family="Liberation Sans, sans-serif" font-size="16.5" fill="#000" stroke="#000" stroke-width="0.3">400</text>
<text x="113" y="638.2" text-anchor="end" font-family="Liberation Sans, sans-serif" font-size="16.5" fill="#000" stroke="#000" stroke-width="0.3">500</text>
<text x="113" y="625.5" text-anchor="end" font-family="Liberation Sans, sans-serif" font-size="16.5" fill="#000" stroke="#000" stroke-width="0.3">600</text>
<text x="113" y="612.9" text-anchor="end" font-family="Liberation Sans, sans-serif" font-size="16.5" fill="#000" stroke="#000" stroke-width="0.3">700</text>
<text x="113" y="600.2" text-anchor="end" font-family="Liberation Sans, sans-serif" font-size="16.5" fill="#000" stroke="#000" stroke-width="0.3">800</text>
<text x="113" y="587.5" text-anchor="end" font-family="Liberation Sans, sans-serif" font-size="16.5" fill="#000" stroke="#000" stroke-width="0.3">900</text>
<text x="134.2" y="710.6" text-anchor="middle" font-family="Liberation Sans, sans-serif" font-size="16.5" fill="#000" stroke="#000" stroke-width="0.3">2</text>
<text x="166.1" y="710.6" text-anchor="middle" font-family="Liberation Sans, sans-serif" font-size="16.5" fill="#000" stroke="#000" stroke-width="0.3">4</text>
<text x="198.0" y="710.6" text-anchor="middle" font-family="Liberation Sans, sans-serif" font-size="16.5" fill="#000" stroke="#000" stroke-width="0.3">6</text>
<text x="229.9" y="710.6" text-anchor="middle" font-family="Liberation Sans, sans-serif" font-size="16.5" fill="#000" stroke="#000" stroke-width="0.3">8</text>
<text x="261.8" y="710.6" text-anchor="middle" font-family="Liberation Sans, sans-serif" font-size="16.5" fill="#000" stroke="#000" stroke-width="0.3">10</text>
<text x="293.7" y="710.6" text-anchor="middle" font-family="Liberation Sans, sans-serif" font-size="16.5" fill="#000" stroke="#000" stroke-width="0.3">12</text>
<text x="325.6" y="710.6" text-anchor="middle" font-family="Liberation Sans, sans-serif" font-size="16.5" fill="#000" stroke="#000" stroke-width="0.3">14</text>
<text x="357.5" y="710.6" text-anchor="middle" font-family="Liberation Sans, sans-serif" font-size="16.5" fill="#000" stroke="#000" stroke-width="0.3">16</text>
<text x="389.4" y="710.6" text-anchor="middle" font-family="Liberation Sans, sans-serif" font-size="16.5" fill="#000" stroke="#000" stroke-width="0.3">18</text>
<text x="421.3" y="710.6" text-anchor="middle" font-family="Liberation Sans, sans-serif" font-size="16.5" fill="#000" stroke="#000" stroke-width="0.3">20</text>
<text x="453.2" y="710.6" text-anchor="middle" font-family="Liberation Sans, sans-serif" font-size="16.5" fill="#000" stroke="#000" stroke-width="0.3">22</text>
<text x="485.1" y="710.6" text-anchor="middle" font-family="Liberation Sans, sans-serif" font-size="16.5" fill="#000" stroke="#000" stroke-width="0.3">24</text>
<text x="517.0" y="710.6" text-anchor="middle" font-family="Liberation Sans, sans-serif" font-size="16.5" fill="#000" stroke="#000" stroke-width="0.3">26</text>
<text x="548.9" y="710.6" text-anchor="middle" font-family="Liberation Sans, sans-serif" font-size="16.5" fill="#000" stroke="#000" stroke-width="0.3">28</text>
<text x="580.8" y="710.6" text-anchor="middle" font-family="Liberation Sans, sans-serif" font-size="16.5" fill="#000" stroke="#000" stroke-width="0.3">30</text>
<text x="612.6" y="710.6" text-anchor="middle" font-family="Liberation Sans, sans-serif" font-size="16.5" fill="#000" stroke="#000" stroke-width="0.3">32</text>
<text x="644.5" y="710.6" text-anchor="middle" font-family="Liberation Sans, sans-serif" font-size="16.5" fill="#000" stroke="#000" stroke-width="0.3">34</text>
<text x="676.4" y="710.6" text-anchor="middle" font-family="Liberation Sans, sans-serif" font-size="16.5" fill="#000" stroke="#000" stroke-width="0.3">36</text>
<text x="708.3" y="710.6" text-anchor="middle" font-family="Liberation Sans, sans-serif" font-size="16.5" fill="#000" stroke="#000" stroke-width="0.3">38</text>
<text x="740.2" y="710.6" text-anchor="middle" font-family="Liberation Sans, sans-serif" font-size="16.5" fill="#000" stroke="#000" stroke-width="0.3">40</text>
<text x="772.1" y="710.6" text-anchor="middle" font-family="Liberation Sans, sans-serif" font-size="16.5" fill="#000" stroke="#000" stroke-width="0.3">42</text>
<text x="804.0" y="710.6" text-anchor="middle" font-family="Liberation Sans, sans-serif" font-size="16.5" fill="#000" stroke="#000" stroke-width="0.3">44</text>
<text x="835.9" y="710.6" text-anchor="middle" font-family="Liberation Sans, sans-serif" font-size="16.5" fill="#000" stroke="#000" stroke-width="0.3">46</text>
<text x="867.8" y="710.6" text-anchor="middle" font-family="Liberation Sans, sans-serif" font-size="16.5" fill="#000" stroke="#000" stroke-width="0.3">48</text>
<text x="899.7" y="710.6" text-anchor="middle" font-family="Liberation Sans, sans-serif" font-size="16.5" fill="#000" stroke="#000" stroke-width="0.3">50</text>
<text x="931.6" y="710.6" text-anchor="middle" font-family="Liberation Sans, sans-serif" font-size="16.5" fill="#000" stroke="#000" stroke-width="0.3">52</text>
<text x="963.5" y="710.6" text-anchor="middle" font-family="Liberation Sans, sans-serif" font-size="16.5" fill="#000" stroke="#000" stroke-width="0.3">54</text>
<text x="995.4" y="710.6" text-anchor="middle" font-family="Liberation Sans, sans-serif" font-size="16.5" fill="#000" stroke="#000" stroke-width="0.3">56</text>
<text x="1027.3" y="710.6" text-anchor="middle" font-family="Liberation Sans, sans-serif" font-size="16.5" fill="#000" stroke="#000" stroke-width="0.3">58</text>
<text x="1059.2" y="710.6" text-anchor="middle" font-family="Liberation Sans, sans-serif" font-size="16.5" fill="#000" stroke="#000" stroke-width="0.3">60</text>
<text x="1081.5" y="598.0" font-family="Liberation Sans, sans-serif" font-size="29.6" fill="#000" stroke="#000" stroke-width="0.3">L4</text>
<path d="M119 673H135V674H151V664H167V659H183V664H199V684H215H231V683H247V684H263V683H279V684H295V682H310H326V681H342V683H358V675H374V600H390V597H406V606H422V601H438V649H454V685H470V686H486V689H502V688H518V687H534V690H550V686H566H582V681H598V598H613V583H629V577H645H661V585H677V584H693V694H709H725H741H757V639H773V677H789V612H805V620H821V601H837V598H853V656H869V684H885V643H900V645H916V663H932V669H948V680H964V691H980H996H1012V692H1028V694H1044H1060H1077" stroke="#000000" stroke-width="2" fill="none" stroke-linejoin="miter" stroke-linecap="butt"/>
<path d="M119 694H135V684H151V681H167V682H183V690H199V691H215H231H247V690H263V691H279V690H295H310H326V691H342V690H358V688H374V648H390V652H406V663H422V660H438V686H454V691H470V692H486V693H502V692H518H534V693H550V692H566H582V691H598V672H613V671H629V672H645V667H661V668H677V671H693V694H709H725H741H757V687H773V691H789V676H805V679H821V676H837V678H853V690H869V692H885V686H900V687H916V689H932V690H948V692H964V693H980V694H996H1012H1028H1044H1060H1077" stroke="#009933" stroke-width="2" fill="none" stroke-linejoin="miter" stroke-linecap="butt"/>
<path d="M119 694H135V686H151V685H167H183V694H199V693H215H231H247V692H263V693H279V692H295H310H326V693H342V692H358H374V660H390V666H406V673H422H438V692H454V693H470H486V694H502V693H518H534V694H550V693H566H582H598V683H613H629V682H645H661V680H677V683H693V694H709H725H741H757V693H773H789V684H805V686H821V684H837V685H853V694H869H885V690H900H916V692H932H948V694H964H980H996H1012H1028H1044H1060H1077" stroke="#6600cc" stroke-width="2" fill="none" stroke-linejoin="miter" stroke-linecap="butt"/>
<path d="M119 694H135V689H151V686H167H183V694H199V693H215H231H247H263H279H295H310H326H342H358V692H374V663H390V668H406V674H422V675H438V692H454V693H470H486H502H518H534H550H566H582H598V684H613H629V683H645H661V682H677V684H693V694H709H725H741H757V693H773H789V686H805V687H821V686H837V687H853V694H869H885V691H900V692H916H932H948V694H964H980H996H1012H1028H1044H1060H1077" stroke="#cc6633" stroke-width="2" fill="none" stroke-linejoin="miter" stroke-linecap="butt"/>
<g class="mk"><circle cx="127.5" cy="673.5" r="4.1"/><circle cx="143.5" cy="674.5" r="4.1"/><circle cx="159.5" cy="664.5" r="4.1"/><circle cx="175.5" cy="659.5" r="4.1"/><circle cx="191.5" cy="664.5" r="4.1"/><circle cx="207.5" cy="684.5" r="4.1"/><circle cx="223.5" cy="684.5" r="4.1"/><circle cx="239.5" cy="683.5" r="4.1"/><circle cx="255.5" cy="684.5" r="4.1"/><circle cx="271.5" cy="683.5" r="4.1"/><circle cx="287.5" cy="684.5" r="4.1"/><circle cx="302.5" cy="682.5" r="4.1"/><circle cx="318.5" cy="682.5" r="4.1"/><circle cx="334.5" cy="681.5" r="4.1"/><circle cx="350.5" cy="683.5" r="4.1"/><circle cx="366.5" cy="675.5" r="4.1"/><circle cx="382.5" cy="600.5" r="4.1"/><circle cx="398.5" cy="597.5" r="4.1"/><circle cx="414.5" cy="606.5" r="4.1"/><circle cx="430.5" cy="601.5" r="4.1"/><circle cx="446.5" cy="649.5" r="4.1"/><circle cx="462.5" cy="685.5" r="4.1"/><circle cx="478.5" cy="686.5" r="4.1"/><circle cx="494.5" cy="689.5" r="4.1"/><circle cx="510.5" cy="688.5" r="4.1"/><circle cx="526.5" cy="687.5" r="4.1"/><circle cx="542.5" cy="690.5" r="4.1"/><circle cx="558.5" cy="686.5" r="4.1"/><circle cx="574.5" cy="686.5" r="4.1"/><circle cx="590.5" cy="681.5" r="4.1"/><circle cx="605.5" cy="598.5" r="4.1"/><circle cx="621.5" cy="583.5" r="4.1"/><circle cx="637.5" cy="577.5" r="4.1"/><circle cx="653.5" cy="577.5" r="4.1"/><circle cx="669.5" cy="585.5" r="4.1"/><circle cx="685.5" cy="584.5" r="4.1"/><circle cx="765.5" cy="639.5" r="4.1"/><circle cx="781.5" cy="677.5" r="4.1"/><circle cx="797.5" cy="612.5" r="4.1"/><circle cx="813.5" cy="620.5" r="4.1"/><circle cx="829.5" cy="601.5" r="4.1"/><circle cx="845.5" cy="598.5" r="4.1"/><circle cx="861.5" cy="656.5" r="4.1"/><circle cx="877.5" cy="684.5" r="4.1"/><circle cx="893.5" cy="643.5" r="4.1"/><circle cx="908.5" cy="645.5" r="4.1"/><circle cx="924.5" cy="663.5" r="4.1"/><circle cx="940.5" cy="669.5" r="4.1"/><circle cx="956.5" cy="680.5" r="4.1"/><circle cx="972.5" cy="691.5" r="4.1"/><circle cx="988.5" cy="691.5" r="4.1"/><circle cx="1004.5" cy="691.5" r="4.1"/><circle cx="1020.5" cy="692.5" r="4.1"/></g>
<g class="mg"><rect x="139.5" y="680.5" width="8" height="8"/><rect x="155.5" y="677.5" width="8" height="8"/><rect x="171.5" y="678.5" width="8" height="8"/><rect x="187.5" y="686.5" width="8" height="8"/><rect x="203.5" y="687.5" width="8" height="8"/><rect x="219.5" y="687.5" width="8" height="8"/><rect x="235.5" y="687.5" width="8" height="8"/><rect x="251.5" y="686.5" width="8" height="8"/><rect x="267.5" y="687.5" width="8" height="8"/><rect x="283.5" y="686.5" width="8" height="8"/><rect x="298.5" y="686.5" width="8" height="8"/><rect x="314.5" y="686.5" width="8" height="8"/><rect x="330.5" y="687.5" width="8" height="8"/><rect x="346.5" y="686.5" width="8" height="8"/><rect x="362.5" y="684.5" width="8" height="8"/><rect x="378.5" y="644.5" width="8" height="8"/><rect x="394.5" y="648.5" width="8" height="8"/><rect x="410.5" y="659.5" width="8" height="8"/><rect x="426.5" y="656.5" width="8" height="8"/><rect x="442.5" y="682.5" width="8" height="8"/><rect x="458.5" y="687.5" width="8" height="8"/><rect x="474.5" y="688.5" width="8" height="8"/><rect x="490.5" y="689.5" width="8" height="8"/><rect x="506.5" y="688.5" width="8" height="8"/><rect x="522.5" y="688.5" width="8" height="8"/><rect x="538.5" y="689.5" width="8" height="8"/><rect x="554.5" y="688.5" width="8" height="8"/><rect x="570.5" y="688.5" width="8" height="8"/><rect x="586.5" y="687.5" width="8" height="8"/><rect x="601.5" y="668.5" width="8" height="8"/><rect x="617.5" y="667.5" width="8" height="8"/><rect x="633.5" y="668.5" width="8" height="8"/><rect x="649.5" y="663.5" width="8" height="8"/><rect x="665.5" y="664.5" width="8" height="8"/><rect x="681.5" y="667.5" width="8" height="8"/><rect x="761.5" y="683.5" width="8" height="8"/><rect x="777.5" y="687.5" width="8" height="8"/><rect x="793.5" y="672.5" width="8" height="8"/><rect x="809.5" y="675.5" width="8" height="8"/><rect x="825.5" y="672.5" width="8" height="8"/><rect x="841.5" y="674.5" width="8" height="8"/><rect x="857.5" y="686.5" width="8" height="8"/><rect x="873.5" y="688.5" width="8" height="8"/><rect x="889.5" y="682.5" width="8" height="8"/><rect x="904.5" y="683.5" width="8" height="8"/><rect x="920.5" y="685.5" width="8" height="8"/><rect x="936.5" y="686.5" width="8" height="8"/><rect x="952.5" y="688.5" width="8" height="8"/><rect x="968.5" y="689.5" width="8" height="8"/><rect x="1000.5" y="690.5" width="8" height="8"/></g>
<g class="mp"><path d="M139.5 690.2H147.5L143.5 682.8Z"/><path d="M155.5 689.2H163.5L159.5 681.8Z"/><path d="M171.5 689.2H179.5L175.5 681.8Z"/><path d="M187.5 698.2H195.5L191.5 690.8Z"/><path d="M203.5 697.2H211.5L207.5 689.8Z"/><path d="M219.5 697.2H227.5L223.5 689.8Z"/><path d="M235.5 697.2H243.5L239.5 689.8Z"/><path d="M251.5 696.2H259.5L255.5 688.8Z"/><path d="M267.5 697.2H275.5L271.5 689.8Z"/><path d="M283.5 696.2H291.5L287.5 688.8Z"/><path d="M298.5 696.2H306.5L302.5 688.8Z"/><path d="M314.5 696.2H322.5L318.5 688.8Z"/><path d="M330.5 697.2H338.5L334.5 689.8Z"/><path d="M346.5 696.2H354.5L350.5 688.8Z"/><path d="M362.5 696.2H370.5L366.5 688.8Z"/><path d="M378.5 664.2H386.5L382.5 656.8Z"/><path d="M394.5 670.2H402.5L398.5 662.8Z"/><path d="M410.5 677.2H418.5L414.5 669.8Z"/><path d="M426.5 677.2H434.5L430.5 669.8Z"/><path d="M442.5 696.2H450.5L446.5 688.8Z"/><path d="M458.5 697.2H466.5L462.5 689.8Z"/><path d="M474.5 697.2H482.5L478.5 689.8Z"/><path d="M490.5 698.2H498.5L494.5 690.8Z"/><path d="M506.5 697.2H514.5L510.5 689.8Z"/><path d="M522.5 697.2H530.5L526.5 689.8Z"/><path d="M538.5 698.2H546.5L542.5 690.8Z"/><path d="M554.5 697.2H562.5L558.5 689.8Z"/><path d="M570.5 697.2H578.5L574.5 689.8Z"/><path d="M586.5 697.2H594.5L590.5 689.8Z"/><path d="M601.5 687.2H609.5L605.5 679.8Z"/><path d="M617.5 687.2H625.5L621.5 679.8Z"/><path d="M633.5 686.2H641.5L637.5 678.8Z"/><path d="M649.5 686.2H657.5L653.5 678.8Z"/><path d="M665.5 684.2H673.5L669.5 676.8Z"/><path d="M681.5 687.2H689.5L685.5 679.8Z"/><path d="M761.5 697.2H769.5L765.5 689.8Z"/><path d="M777.5 697.2H785.5L781.5 689.8Z"/><path d="M793.5 688.2H801.5L797.5 680.8Z"/><path d="M809.5 690.2H817.5L813.5 682.8Z"/><path d="M825.5 688.2H833.5L829.5 680.8Z"/><path d="M841.5 689.2H849.5L845.5 681.8Z"/><path d="M857.5 698.2H865.5L861.5 690.8Z"/><path d="M873.5 698.2H881.5L877.5 690.8Z"/><path d="M889.5 694.2H897.5L893.5 686.8Z"/><path d="M904.5 694.2H912.5L908.5 686.8Z"/><path d="M920.5 696.2H928.5L924.5 688.8Z"/><path d="M936.5 696.2H944.5L940.5 688.8Z"/><path d="M952.5 698.2H960.5L956.5 690.8Z"/><path d="M968.5 698.2H976.5L972.5 690.8Z"/><path d="M1000.5 698.2H1008.5L1004.5 690.8Z"/></g>
<g class="mo"><path d="M139.5 685.8H147.5L143.5 693.2Z"/><path d="M155.5 682.8H163.5L159.5 690.2Z"/><path d="M171.5 682.8H179.5L175.5 690.2Z"/><path d="M187.5 690.8H195.5L191.5 698.2Z"/><path d="M203.5 689.8H211.5L207.5 697.2Z"/><path d="M219.5 689.8H227.5L223.5 697.2Z"/><path d="M235.5 689.8H243.5L239.5 697.2Z"/><path d="M251.5 689.8H259.5L255.5 697.2Z"/><path d="M267.5 689.8H275.5L271.5 697.2Z"/><path d="M283.5 689.8H291.5L287.5 697.2Z"/><path d="M298.5 689.8H306.5L302.5 697.2Z"/><path d="M314.5 689.8H322.5L318.5 697.2Z"/><path d="M330.5 689.8H338.5L334.5 697.2Z"/><path d="M346.5 689.8H354.5L350.5 697.2Z"/><path d="M362.5 688.8H370.5L366.5 696.2Z"/><path d="M378.5 659.8H386.5L382.5 667.2Z"/><path d="M394.5 664.8H402.5L398.5 672.2Z"/><path d="M410.5 670.8H418.5L414.5 678.2Z"/><path d="M426.5 671.8H434.5L430.5 679.2Z"/><path d="M442.5 688.8H450.5L446.5 696.2Z"/><path d="M458.5 689.8H466.5L462.5 697.2Z"/><path d="M474.5 689.8H482.5L478.5 697.2Z"/><path d="M490.5 689.8H498.5L494.5 697.2Z"/><path d="M506.5 689.8H514.5L510.5 697.2Z"/><path d="M522.5 689.8H530.5L526.5 697.2Z"/><path d="M538.5 689.8H546.5L542.5 697.2Z"/><path d="M554.5 689.8H562.5L558.5 697.2Z"/><path d="M570.5 689.8H578.5L574.5 697.2Z"/><path d="M586.5 689.8H594.5L590.5 697.2Z"/><path d="M601.5 680.8H609.5L605.5 688.2Z"/><path d="M617.5 680.8H625.5L621.5 688.2Z"/><path d="M633.5 679.8H641.5L637.5 687.2Z"/><path d="M649.5 679.8H657.5L653.5 687.2Z"/><path d="M665.5 678.8H673.5L669.5 686.2Z"/><path d="M681.5 680.8H689.5L685.5 688.2Z"/><path d="M761.5 689.8H769.5L765.5 697.2Z"/><path d="M777.5 689.8H785.5L781.5 697.2Z"/><path d="M793.5 682.8H801.5L797.5 690.2Z"/><path d="M809.5 683.8H817.5L813.5 691.2Z"/><path d="M825.5 682.8H833.5L829.5 690.2Z"/><path d="M841.5 683.8H849.5L845.5 691.2Z"/><path d="M857.5 690.8H865.5L861.5 698.2Z"/><path d="M873.5 690.8H881.5L877.5 698.2Z"/><path d="M889.5 687.8H897.5L893.5 695.2Z"/><path d="M904.5 688.8H912.5L908.5 696.2Z"/><path d="M920.5 688.8H928.5L924.5 696.2Z"/><path d="M936.5 688.8H944.5L940.5 696.2Z"/><path d="M952.5 690.8H960.5L956.5 698.2Z"/><path d="M968.5 690.8H976.5L972.5 698.2Z"/><path d="M1000.5 690.8H1008.5L1004.5 698.2Z"/><path d="M123.5 690.8H131.5L127.5 698.2Z"/></g>
<text x="1075.6" y="730.6" text-anchor="end" font-family="Liberation Sans, sans-serif" font-size="16.5" fill="#000" stroke="#000" stroke-width="0.3">Cell</text>
</svg>
</body></html>
